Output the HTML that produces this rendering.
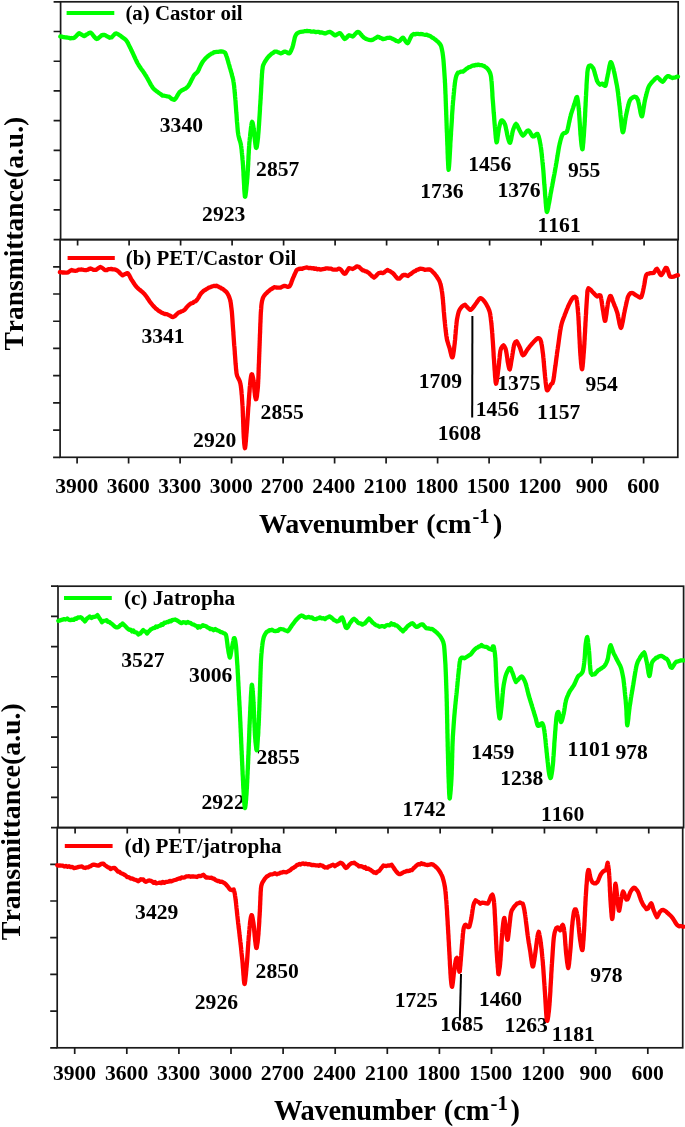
<!DOCTYPE html>
<html><head><meta charset="utf-8"><title>FTIR spectra</title>
<style>
html,body{margin:0;padding:0;background:#fff;}
svg{display:block}
text{font-family:"Liberation Serif",serif;font-weight:bold;fill:#000;font-kerning:none}
.lb{font-size:21.6px}
.lg{font-size:20.9px}
.tk{font-size:21.5px}
.ti{font-size:27px}
.su{font-size:20px}
</style></head><body>
<svg width="685" height="1127" viewBox="0 0 685 1127">
<rect width="685" height="1127" fill="#fff"/>
<g stroke="#1a1a1a" stroke-width="1.7" fill="none">
<rect x="60.6" y="1.8" width="617.60" height="237.80"/>
<path d="M53.60,1.80H60.6M53.60,31.52H60.6M53.60,61.25H60.6M53.60,90.97H60.6M53.60,120.70H60.6M53.60,150.43H60.6M53.60,180.15H60.6M53.60,209.88H60.6M53.60,239.60H60.6M77.60,239.6v6.0M129.10,239.6v6.0M180.60,239.6v6.0M232.10,239.6v6.0M283.60,239.6v6.0M335.10,239.6v6.0M386.60,239.6v6.0M438.10,239.6v6.0M489.60,239.6v6.0M541.10,239.6v6.0M592.60,239.6v6.0M644.10,239.6v6.0"/>
</g>
<g stroke="#1a1a1a" stroke-width="1.7" fill="none">
<rect x="60.1" y="239.6" width="617.70" height="217.70"/>
<path d="M53.10,266.81H60.1M53.10,294.02H60.1M53.10,321.24H60.1M53.10,348.45H60.1M53.10,375.66H60.1M53.10,402.88H60.1M53.10,430.09H60.1M53.10,457.30H60.1M77.10,457.3v6.3M128.60,457.3v6.3M180.10,457.3v6.3M231.60,457.3v6.3M283.10,457.3v6.3M334.60,457.3v6.3M386.10,457.3v6.3M437.60,457.3v6.3M489.10,457.3v6.3M540.60,457.3v6.3M592.10,457.3v6.3M643.60,457.3v6.3"/>
</g>
<text font-size="21.5" x="55.3" y="492.7">3900</text>
<text font-size="21.5" x="106.8" y="492.7">3600</text>
<text font-size="21.5" x="158.3" y="492.7">3300</text>
<text font-size="21.5" x="209.8" y="492.7">3000</text>
<text font-size="21.5" x="260.8" y="492.7">2700</text>
<text font-size="21.5" x="312.3" y="492.7">2400</text>
<text font-size="21.5" x="363.8" y="492.7">2100</text>
<text font-size="21.5" x="415.3" y="492.7">1800</text>
<text font-size="21.5" x="466.8" y="492.7">1500</text>
<text font-size="21.5" x="518.3" y="492.7">1200</text>
<text font-size="21.5" x="575.8" y="492.7">900</text>
<text font-size="21.5" x="627.3" y="492.7">600</text>
<g stroke="#1a1a1a" stroke-width="1.7" fill="none">
<rect x="58.0" y="586.2" width="625.60" height="241.40"/>
<path d="M51.00,586.20H58.0M51.00,616.38H58.0M51.00,646.55H58.0M51.00,676.73H58.0M51.00,706.90H58.0M51.00,737.08H58.0M51.00,767.25H58.0M51.00,797.42H58.0M51.00,827.60H58.0M75.10,827.6v6.0M127.25,827.6v6.0M179.40,827.6v6.0M231.55,827.6v6.0M283.70,827.6v6.0M335.85,827.6v6.0M388.00,827.6v6.0M440.15,827.6v6.0M492.30,827.6v6.0M544.45,827.6v6.0M596.60,827.6v6.0M648.75,827.6v6.0"/>
</g>
<g stroke="#1a1a1a" stroke-width="1.7" fill="none">
<rect x="57.2" y="827.6" width="625.50" height="220.20"/>
<path d="M50.20,864.30H57.2M50.20,901.00H57.2M50.20,937.70H57.2M50.20,974.40H57.2M50.20,1011.10H57.2M50.20,1047.80H57.2M74.70,1047.8v6.3M126.80,1047.8v6.3M178.90,1047.8v6.3M231.00,1047.8v6.3M283.10,1047.8v6.3M335.20,1047.8v6.3M387.30,1047.8v6.3M439.40,1047.8v6.3M491.50,1047.8v6.3M543.60,1047.8v6.3M595.70,1047.8v6.3M647.80,1047.8v6.3"/>
</g>
<text font-size="21.6" x="52.9" y="1080.0">3900</text>
<text font-size="21.6" x="105.0" y="1080.0">3600</text>
<text font-size="21.6" x="157.1" y="1080.0">3300</text>
<text font-size="21.6" x="209.2" y="1080.0">3000</text>
<text font-size="21.6" x="260.8" y="1080.0">2700</text>
<text font-size="21.6" x="312.9" y="1080.0">2400</text>
<text font-size="21.6" x="365.0" y="1080.0">2100</text>
<text font-size="21.6" x="417.1" y="1080.0">1800</text>
<text font-size="21.6" x="469.2" y="1080.0">1500</text>
<text font-size="21.6" x="521.3" y="1080.0">1200</text>
<text font-size="21.6" x="579.4" y="1080.0">900</text>
<text font-size="21.6" x="631.5" y="1080.0">600</text>
<text font-size="21.6" x="159.8" y="131.8">3340</text>
<text font-size="21.6" x="256.1" y="176.3">2857</text>
<text font-size="21.6" x="202.1" y="220.8">2923</text>
<text font-size="21.6" x="468.2" y="171.3">1456</text>
<text font-size="21.6" x="420.3" y="197.7">1736</text>
<text font-size="21.6" x="497.4" y="196.9">1376</text>
<text font-size="21.6" x="537.5" y="232.2">1161</text>
<text font-size="21.6" x="568.0" y="176.8">955</text>
<text font-size="21.6" x="141.4" y="342.8">3341</text>
<text font-size="21.6" x="260.6" y="419.4">2855</text>
<text font-size="21.6" x="193.1" y="447.0">2920</text>
<text font-size="21.6" x="418.8" y="387.7">1709</text>
<text font-size="21.6" x="497.3" y="390.2">1375</text>
<text font-size="21.6" x="475.8" y="415.6">1456</text>
<text font-size="21.6" x="437.8" y="440.0">1608</text>
<text font-size="21.6" x="537.1" y="419.0">1157</text>
<text font-size="21.6" x="585.5" y="391.3">954</text>
<text font-size="21.6" x="121.3" y="667.2">3527</text>
<text font-size="21.6" x="189.1" y="682.3">3006</text>
<text font-size="21.6" x="256.5" y="764.1">2855</text>
<text font-size="21.6" x="201.5" y="808.6">2922</text>
<text font-size="21.6" x="402.6" y="816.1">1742</text>
<text font-size="21.6" x="471.2" y="758.8">1459</text>
<text font-size="21.6" x="500.2" y="785.2">1238</text>
<text font-size="21.6" x="541.0" y="821.2">1160</text>
<text font-size="21.6" x="567.5" y="756.3">1101</text>
<text font-size="21.6" x="615.5" y="758.8">978</text>
<text font-size="21.6" x="135.1" y="919.3">3429</text>
<text font-size="21.6" x="255.6" y="977.6">2850</text>
<text font-size="21.6" x="194.8" y="1009.2">2926</text>
<text font-size="21.6" x="394.7" y="1007.2">1725</text>
<text font-size="21.6" x="440.3" y="1030.5">1685</text>
<text font-size="21.6" x="478.9" y="1006.4">1460</text>
<text font-size="21.6" x="504.6" y="1031.8">1263</text>
<text font-size="21.6" x="551.7" y="1041.1">1181</text>
<text font-size="21.6" x="590.2" y="981.6">978</text>
<line x1="66.6" y1="13.1" x2="114.3" y2="13.1" stroke="#00ff00" stroke-width="4"/><text font-size="20.9" x="125.4" y="20.1">(a) Castor oil</text>
<line x1="67.6" y1="258.0" x2="114.8" y2="258.0" stroke="#ff0000" stroke-width="4"/><text font-size="20.9" x="125.8" y="264.6">(b) PET/Castor Oil</text>
<line x1="64" y1="598.1" x2="111.8" y2="598.1" stroke="#00ff00" stroke-width="4"/><text font-size="21.2" x="123.9" y="605.2">(c) Jatropha</text>
<line x1="64.8" y1="845.9" x2="112.6" y2="845.9" stroke="#ff0000" stroke-width="4"/><text font-size="21.2" x="124.4" y="853.2">(d) PET/jatropha</text>
<line x1="472.4" y1="316" x2="472.2" y2="417.4" stroke="#000" stroke-width="2"/>
<line x1="461" y1="974" x2="459.8" y2="1020.5" stroke="#000" stroke-width="2"/>
<path d="M60.3,36.4L61.1,36.6L62.3,36.7L63.8,37.2L65.4,37.4L67.2,37.5L68.9,37.8L70.5,38.4L71.9,38.0L72.9,38.2L74.1,37.9L75.3,36.8L76.4,35.8L77.4,34.7L78.3,33.9L79.1,33.1L80.3,33.8L81.6,34.6L83.0,35.5L84.2,36.1L85.3,35.5L86.6,34.5L88.0,33.8L89.4,32.8L90.5,32.6L91.4,33.2L92.5,34.4L93.6,35.9L94.7,37.3L95.8,38.4L96.7,39.0L97.8,38.7L99.1,37.5L100.5,36.4L101.8,35.1L103.0,35.0L104.1,34.9L105.4,35.3L106.8,36.2L108.3,36.9L109.6,37.8L110.6,37.5L111.7,37.3L112.8,36.1L113.9,34.9L115.0,33.8L116.0,33.4L117.0,33.7L118.2,34.3L119.6,35.2L120.9,36.1L122.1,37.1L123.0,37.7L124.1,38.6L125.1,39.3L126.1,40.3L127.0,41.5L127.5,42.3L128.1,43.4L128.7,44.7L129.4,46.1L130.1,47.5L130.8,48.9L131.4,50.3L132.0,51.5L132.5,52.5L133.0,53.6L133.6,54.9L134.2,56.3L134.9,57.7L135.5,59.1L136.2,60.5L136.8,61.8L137.4,63.0L138.0,64.0L138.6,65.0L139.3,66.1L140.1,67.3L140.9,68.5L141.8,69.7L142.7,70.9L143.5,72.1L144.3,73.3L145.0,74.4L145.7,75.4L146.3,76.4L146.9,77.5L147.6,78.7L148.3,80.0L149.0,81.3L149.7,82.6L150.4,83.9L151.1,85.1L151.8,86.2L152.4,87.2L153.0,88.0L154.0,89.1L155.2,90.1L156.5,91.2L157.8,92.1L159.0,93.0L160.1,93.7L160.8,94.2L161.8,95.1L162.6,95.7L163.8,95.7L165.5,96.0L167.3,96.4L168.8,96.6L170.1,97.5L171.6,98.8L173.1,99.5L174.4,99.8L175.1,99.1L175.9,98.1L176.7,96.8L177.5,95.4L178.4,93.9L179.2,92.7L180.0,91.7L180.9,91.1L182.0,90.3L183.2,89.8L184.4,88.9L185.7,88.4L186.8,87.6L187.7,86.7L188.4,85.8L189.1,84.6L189.9,83.3L190.7,81.8L191.4,80.2L192.2,78.7L192.9,77.4L193.5,76.2L194.0,75.4L195.0,74.2L195.9,73.5L196.8,72.7L197.7,71.6L198.2,70.7L198.8,69.6L199.4,68.2L200.1,66.7L200.8,65.2L201.5,63.8L202.2,62.6L202.8,61.6L203.7,60.5L204.7,59.3L205.8,58.1L207.0,56.9L208.1,56.1L209.0,55.3L210.1,54.6L211.4,53.6L212.7,53.2L214.0,52.2L215.3,52.1L216.5,51.9L218.1,51.9L219.8,51.5L221.5,51.5L223.0,51.6L224.0,52.1L225.1,52.8L225.8,54.2L226.6,56.5L226.9,57.3L227.2,58.2L227.5,59.4L227.9,60.7L228.3,62.1L228.7,63.6L229.2,65.1L229.6,66.6L230.0,68.1L230.5,69.6L230.8,70.9L231.2,72.2L231.5,73.2L231.7,74.1L232.1,75.7L232.5,77.2L232.9,78.5L233.2,79.9L233.4,81.3L233.7,82.9L233.8,83.8L233.9,84.7L234.1,85.8L234.2,87.0L234.3,88.2L234.5,89.6L234.6,91.0L234.7,92.4L234.9,93.9L235.0,95.4L235.1,96.9L235.3,98.5L235.4,100.0L235.5,100.9L235.6,101.8L235.6,102.9L235.7,104.1L235.8,105.4L235.9,106.7L236.0,108.1L236.1,109.6L236.2,111.1L236.3,112.6L236.5,114.2L236.6,115.8L236.7,117.4L236.8,118.9L236.9,120.5L237.0,122.0L237.2,123.5L237.3,124.9L237.4,126.3L237.5,127.6L237.6,128.8L237.7,130.0L237.8,131.0L237.9,131.9L238.0,132.7L238.3,134.6L238.6,136.2L239.0,137.7L239.3,139.0L239.7,140.2L240.1,141.4L240.4,142.6L240.7,143.8L241.0,145.2L241.1,146.1L241.3,147.2L241.4,148.3L241.6,149.5L241.7,150.8L241.8,152.2L242.0,153.6L242.1,155.0L242.3,156.5L242.4,158.0L242.5,159.5L242.7,161.0L242.8,162.5L242.9,163.9L243.0,165.3L243.1,166.2L243.1,167.3L243.2,168.6L243.3,169.9L243.4,171.4L243.5,172.9L243.5,174.5L243.6,176.2L243.7,177.9L243.8,179.6L243.9,181.4L244.0,183.1L244.1,184.8L244.2,186.4L244.2,188.0L244.3,189.5L244.4,190.9L244.5,192.2L244.6,193.4L244.7,194.4L244.8,195.2L244.8,195.9L244.9,196.4L245.0,196.7L245.1,196.8L245.3,196.5L245.4,195.8L245.6,194.9L245.7,193.7L245.9,192.4L246.1,190.8L246.3,189.1L246.4,187.4L246.6,185.5L246.8,183.7L247.0,181.8L247.1,180.0L247.3,178.3L247.4,176.8L247.5,175.4L247.6,174.5L247.6,173.4L247.7,172.3L247.8,171.1L247.9,169.8L247.9,168.4L248.0,167.0L248.1,165.6L248.2,164.1L248.2,162.6L248.3,161.1L248.4,159.6L248.5,158.1L248.5,156.6L248.6,155.1L248.7,153.7L248.8,152.3L248.8,150.9L248.9,149.6L249.0,148.4L249.1,147.2L249.1,146.2L249.2,145.2L249.3,143.9L249.4,142.5L249.6,141.0L249.7,139.4L249.9,137.8L250.1,136.2L250.2,134.6L250.4,132.9L250.6,131.4L250.8,129.8L250.9,128.4L251.1,127.1L251.3,125.8L251.4,124.8L251.6,123.9L251.7,123.1L251.8,122.6L252.2,121.8L252.7,123.0L253.1,125.1L253.5,127.6L253.6,128.4L253.8,129.5L253.9,130.8L254.1,132.4L254.3,134.0L254.4,135.7L254.6,137.5L254.8,139.3L255.0,141.0L255.2,142.6L255.4,144.1L255.6,145.4L255.7,146.5L255.9,147.3L256.0,147.7L256.3,147.9L256.6,147.4L256.9,146.3L257.1,144.7L257.4,142.7L257.7,140.3L258.0,137.7L258.1,137.0L258.1,136.1L258.2,135.2L258.3,134.1L258.4,133.0L258.5,131.8L258.6,130.5L258.7,129.1L258.8,127.7L258.9,126.3L259.0,124.8L259.1,123.2L259.2,121.7L259.3,120.1L259.4,118.5L259.5,116.9L259.6,115.3L259.7,113.8L259.8,112.2L259.9,110.7L260.0,109.2L260.0,107.8L260.1,106.4L260.2,105.1L260.3,103.8L260.4,102.6L260.4,101.5L260.5,100.5L260.6,99.3L260.7,98.0L260.7,96.7L260.8,95.3L260.9,93.8L261.0,92.3L261.1,90.8L261.1,89.3L261.2,87.8L261.3,86.2L261.4,84.7L261.5,83.2L261.5,81.7L261.6,80.3L261.7,78.9L261.8,77.6L261.9,76.3L261.9,75.1L262.0,73.9L262.1,72.9L262.2,72.0L262.2,71.1L262.3,70.4L262.6,68.2L262.8,66.6L263.1,65.4L263.5,64.5L263.9,63.7L264.3,62.8L264.9,61.7L265.7,60.5L266.6,59.1L267.5,57.9L268.5,56.7L269.3,55.8L270.4,54.8L271.7,53.7L273.2,52.8L274.5,51.7L275.6,51.6L276.8,51.6L278.2,52.3L279.5,52.9L280.6,53.4L282.0,53.0L283.6,51.9L285.0,51.6L286.4,52.0L288.1,53.1L289.4,53.4L290.1,52.6L290.8,51.3L291.5,49.7L292.2,48.0L292.7,46.5L293.0,45.5L293.3,44.2L293.6,42.8L294.0,41.3L294.3,39.8L294.6,38.4L294.9,37.3L295.2,36.4L296.0,34.8L296.9,33.6L298.2,32.7L299.3,32.3L300.8,31.8L302.6,31.7L304.4,31.2L305.9,31.2L307.0,30.9L308.4,31.1L310.0,31.2L311.0,31.7L312.4,31.6L314.0,31.5L315.8,32.1L317.4,31.9L318.9,31.9L320.0,32.5L321.9,32.3L323.6,33.2L325.0,33.5L326.2,33.1L327.5,32.6L328.8,32.1L330.0,31.8L331.2,32.5L332.5,33.5L333.8,34.6L335.0,35.4L336.2,34.9L337.5,34.1L338.9,33.4L340.0,33.1L340.9,34.0L341.9,35.3L342.9,36.9L343.9,38.2L344.7,39.1L345.7,38.4L346.9,37.3L348.0,35.9L349.0,35.2L350.8,35.8L352.7,36.5L353.6,35.8L354.7,34.6L356.0,33.3L357.2,32.1L358.2,31.9L359.0,32.2L360.0,33.2L361.0,34.5L362.0,35.7L363.1,36.9L364.0,37.7L365.1,38.3L366.4,39.0L367.8,39.5L369.2,39.9L370.5,40.1L371.6,40.0L372.8,39.9L374.1,38.9L375.5,38.2L376.8,37.3L377.8,36.7L379.0,37.1L380.3,37.9L381.6,38.3L382.9,39.2L384.1,38.8L385.5,38.6L387.1,37.8L388.6,37.8L390.0,37.7L391.0,38.1L392.3,38.7L393.6,39.3L395.0,40.0L396.3,41.0L397.5,41.2L398.4,41.6L399.7,40.9L400.9,39.5L402.0,38.3L403.0,37.6L403.8,38.4L404.7,39.8L405.7,41.5L406.7,42.8L407.5,43.3L408.1,42.7L408.7,41.5L409.4,40.1L410.2,38.4L411.0,36.8L411.7,35.5L412.5,34.7L413.6,34.0L414.9,34.3L416.4,33.9L418.0,33.8L419.4,34.2L420.6,34.0L422.0,34.1L423.6,34.5L425.2,34.8L426.7,34.7L428.0,35.4L429.2,35.7L430.6,36.3L431.9,37.4L433.3,38.0L434.4,39.0L435.4,39.6L436.5,40.6L437.7,41.6L438.9,42.8L439.9,44.0L440.7,45.2L441.1,46.1L441.4,47.2L441.7,48.5L442.0,49.8L442.3,51.3L442.6,52.9L442.8,54.5L443.0,56.1L443.2,57.8L443.3,58.7L443.4,59.6L443.5,60.7L443.6,61.9L443.7,63.1L443.8,64.5L443.9,65.8L444.0,67.3L444.1,68.7L444.2,70.2L444.3,71.7L444.4,73.2L444.5,74.7L444.6,76.2L444.7,77.7L444.8,79.1L444.9,80.4L444.9,81.7L445.0,82.9L445.1,83.9L445.1,85.0L445.2,86.1L445.2,87.4L445.3,88.6L445.3,90.0L445.4,91.3L445.4,92.8L445.5,94.2L445.6,95.6L445.6,97.1L445.7,98.6L445.7,100.1L445.8,101.5L445.8,103.0L445.9,104.4L445.9,105.8L446.0,107.1L446.0,108.4L446.1,109.7L446.1,110.9L446.2,112.0L446.2,113.0L446.2,114.2L446.3,115.4L446.3,116.7L446.4,118.0L446.4,119.4L446.5,120.8L446.5,122.2L446.6,123.6L446.6,125.1L446.7,126.5L446.7,128.0L446.8,129.4L446.8,130.9L446.9,132.3L447.0,133.7L447.0,135.0L447.1,136.3L447.1,137.6L447.2,138.8L447.2,140.0L447.2,141.1L447.3,142.4L447.3,143.8L447.4,145.3L447.5,146.9L447.5,148.6L447.6,150.4L447.6,152.2L447.7,154.0L447.8,155.8L447.8,157.6L447.9,159.3L448.0,161.0L448.1,162.5L448.1,164.0L448.2,165.3L448.3,166.5L448.3,167.5L448.4,168.4L448.5,169.0L448.5,169.4L448.6,169.7L448.7,169.4L448.7,169.0L448.8,168.4L448.9,167.6L449.0,166.7L449.1,165.5L449.2,164.2L449.3,162.8L449.4,161.3L449.5,159.7L449.6,158.0L449.7,156.2L449.8,154.5L449.9,152.7L450.0,150.9L450.1,149.1L450.2,147.4L450.3,145.7L450.3,144.1L450.4,142.6L450.5,141.2L450.6,140.0L450.7,139.0L450.7,137.8L450.8,136.7L450.9,135.4L451.0,134.1L451.0,132.7L451.1,131.3L451.2,129.9L451.3,128.4L451.4,126.9L451.5,125.3L451.6,123.8L451.7,122.3L451.8,120.7L451.9,119.2L452.0,117.7L452.0,116.2L452.1,114.7L452.2,113.3L452.3,111.9L452.4,110.6L452.5,109.3L452.6,108.1L452.6,107.0L452.7,106.0L452.8,105.0L452.9,103.7L453.0,102.4L453.1,100.9L453.3,99.5L453.4,98.0L453.5,96.5L453.7,95.0L453.8,93.5L454.0,92.0L454.1,90.5L454.2,89.1L454.4,87.7L454.5,86.4L454.7,85.2L454.8,84.0L454.9,82.9L455.1,81.9L455.2,81.0L455.3,80.3L455.7,78.3L456.1,76.7L456.5,75.4L457.0,74.3L457.5,73.5L458.0,72.6L459.5,72.3L461.3,71.6L463.0,71.7L464.1,70.7L465.4,69.7L466.7,68.6L468.0,67.8L469.0,67.1L470.3,66.8L471.6,66.1L473.1,65.5L474.4,65.5L475.5,64.9L476.8,65.1L478.3,64.6L479.9,65.2L481.3,65.1L482.5,65.6L483.8,65.8L485.3,66.9L486.6,67.8L487.7,68.9L488.3,69.7L488.9,70.6L489.5,71.7L490.1,73.0L490.6,74.6L491.0,76.5L491.1,77.3L491.2,78.2L491.3,79.3L491.4,80.5L491.6,81.7L491.7,83.1L491.8,84.6L491.9,86.0L492.0,87.6L492.1,89.1L492.2,90.7L492.3,92.2L492.4,93.8L492.4,95.2L492.5,96.7L492.6,98.0L492.7,99.3L492.8,100.4L492.9,101.5L493.0,102.7L493.1,103.9L493.2,105.3L493.3,106.6L493.4,108.1L493.5,109.6L493.6,111.0L493.7,112.6L493.9,114.1L494.0,115.5L494.1,117.0L494.2,118.4L494.3,119.8L494.4,121.1L494.5,122.4L494.6,123.5L494.7,124.6L494.8,125.5L494.9,127.0L495.1,128.7L495.2,130.4L495.4,132.3L495.5,134.1L495.7,135.9L495.8,137.5L496.0,139.0L496.2,140.3L496.3,141.3L496.5,142.0L496.6,142.4L496.8,142.1L497.0,141.4L497.2,140.3L497.4,138.9L497.6,137.2L497.9,135.5L498.1,133.7L498.4,131.9L498.6,130.3L498.8,129.0L499.0,128.0L499.4,126.4L499.8,124.8L500.2,123.2L500.6,121.9L501.1,120.8L501.5,120.3L502.3,120.4L503.2,121.3L504.2,122.8L505.0,124.5L505.3,125.4L505.6,126.6L505.9,128.0L506.2,129.6L506.6,131.2L506.9,132.9L507.2,134.5L507.5,135.9L507.8,137.1L508.0,138.0L508.7,140.5L509.5,142.4L510.2,142.7L510.4,142.0L510.7,140.9L511.1,139.5L511.4,137.9L511.7,136.1L512.1,134.4L512.4,132.7L512.7,131.3L513.0,130.3L513.5,128.7L514.2,127.0L514.8,125.5L515.4,124.5L516.0,123.9L516.7,124.6L517.6,126.1L518.4,128.0L519.2,129.5L519.8,130.7L520.6,132.2L521.4,133.7L522.2,134.9L523.0,135.6L523.9,134.9L525.0,133.6L526.1,132.1L527.3,130.8L528.2,130.5L528.9,130.8L529.8,131.9L530.6,133.3L531.5,134.8L532.3,136.0L533.0,136.5L534.1,136.3L535.4,135.1L536.6,133.9L537.6,134.0L537.9,134.6L538.3,135.4L538.7,136.5L539.0,137.7L539.4,139.2L539.7,140.7L540.0,142.3L540.3,143.9L540.6,145.4L540.7,146.3L540.9,147.3L541.0,148.4L541.2,149.6L541.3,150.9L541.5,152.3L541.7,153.7L541.8,155.1L542.0,156.6L542.1,158.2L542.3,159.7L542.4,161.2L542.6,162.7L542.7,164.1L542.9,165.5L543.0,166.8L543.1,168.0L543.2,169.0L543.3,170.1L543.4,171.3L543.5,172.6L543.6,173.9L543.7,175.4L543.8,176.8L543.9,178.3L544.0,179.8L544.1,181.3L544.2,182.8L544.3,184.3L544.5,185.8L544.6,187.3L544.7,188.7L544.8,190.0L544.9,191.3L545.0,192.5L545.0,193.6L545.1,194.6L545.2,195.5L545.3,197.1L545.5,198.8L545.6,200.6L545.7,202.4L545.9,204.2L546.0,206.0L546.2,207.6L546.3,209.0L546.5,210.2L546.6,211.1L546.8,211.7L547.0,211.9L547.2,211.5L547.4,211.0L547.6,210.1L547.9,209.0L548.2,207.6L548.4,206.1L548.7,204.5L549.1,202.8L549.4,201.1L549.7,199.3L550.0,197.6L550.3,195.9L550.5,194.4L550.8,193.0L551.0,192.0L551.2,191.0L551.4,189.8L551.6,188.6L551.9,187.3L552.2,185.9L552.4,184.5L552.7,183.0L553.0,181.5L553.3,180.0L553.5,178.5L553.8,177.0L554.1,175.6L554.4,174.1L554.6,172.7L554.9,171.4L555.1,170.1L555.3,168.9L555.5,167.8L555.7,166.8L555.9,165.6L556.1,164.3L556.4,162.9L556.6,161.4L556.9,160.0L557.1,158.5L557.3,157.0L557.6,155.5L557.8,154.0L558.1,152.5L558.3,151.2L558.5,149.9L558.7,148.6L558.9,147.5L559.1,146.5L559.3,145.6L559.6,144.1L560.0,142.6L560.3,141.2L560.7,139.7L561.1,138.4L561.5,137.1L561.9,136.0L562.3,135.0L562.6,134.3L563.9,133.2L565.5,132.9L566.9,131.6L567.2,130.9L567.4,129.9L567.8,128.8L568.1,127.4L568.4,126.0L568.7,124.5L569.0,122.9L569.4,121.4L569.7,119.9L570.0,118.4L570.3,117.1L570.6,116.0L570.8,115.0L571.2,113.6L571.7,112.1L572.2,110.6L572.7,109.1L573.2,107.6L573.6,106.3L574.0,105.1L574.4,104.1L574.9,102.4L575.5,100.3L576.1,98.4L576.6,97.2L577.0,96.9L577.2,97.4L577.4,98.2L577.6,99.3L577.8,100.6L578.0,102.1L578.2,103.7L578.4,105.4L578.6,107.1L578.7,108.8L578.9,110.4L579.0,111.3L579.1,112.3L579.1,113.5L579.2,114.7L579.3,116.1L579.4,117.5L579.5,119.0L579.6,120.6L579.7,122.1L579.8,123.7L579.9,125.3L580.0,126.8L580.1,128.3L580.2,129.8L580.3,131.1L580.4,132.4L580.4,133.6L580.5,134.6L580.6,135.5L580.8,137.2L580.9,139.0L581.1,141.0L581.3,142.9L581.5,144.8L581.7,146.4L582.0,147.8L582.1,148.8L582.3,149.3L582.5,149.2L582.6,148.9L582.7,148.3L582.8,147.5L582.9,146.5L583.0,145.3L583.1,144.0L583.3,142.6L583.4,141.1L583.5,139.5L583.6,137.9L583.8,136.2L583.9,134.5L584.0,132.8L584.1,131.2L584.2,129.6L584.3,128.1L584.4,126.8L584.5,125.5L584.6,124.5L584.6,123.4L584.7,122.2L584.8,120.9L584.8,119.6L584.9,118.2L585.0,116.8L585.1,115.3L585.1,113.8L585.2,112.3L585.3,110.8L585.3,109.3L585.4,107.8L585.5,106.3L585.6,104.8L585.6,103.4L585.7,102.0L585.8,100.6L585.8,99.4L585.9,98.2L585.9,97.0L586.0,96.0L586.1,94.7L586.1,93.4L586.2,92.0L586.3,90.5L586.4,88.9L586.5,87.4L586.5,85.8L586.6,84.2L586.7,82.6L586.8,81.0L586.9,79.5L587.0,78.1L587.1,76.7L587.2,75.4L587.3,74.2L587.3,73.2L587.4,72.3L587.5,71.5L587.9,68.9L588.4,67.1L588.9,66.0L589.5,65.7L590.6,65.4L592.0,66.7L593.3,68.4L593.6,69.2L594.0,70.3L594.4,71.6L594.8,73.1L595.2,74.7L595.7,76.2L596.1,77.7L596.5,79.1L596.8,80.2L597.1,81.0L598.1,82.8L599.1,83.9L600.0,84.7L601.3,83.8L602.5,83.6L603.9,85.3L605.3,85.9L605.6,85.4L605.9,84.3L606.2,83.0L606.5,81.5L606.8,79.9L607.1,78.2L607.5,76.6L607.7,75.2L608.0,74.0L608.3,72.8L608.5,71.3L608.8,69.7L609.1,68.0L609.4,66.3L609.8,64.8L610.1,63.6L610.3,62.7L610.6,62.1L611.1,62.3L611.7,63.4L612.3,65.0L612.9,67.0L613.5,69.1L613.7,69.9L613.9,70.9L614.2,72.1L614.5,73.4L614.8,74.8L615.1,76.3L615.4,77.8L615.7,79.4L616.0,81.0L616.3,82.5L616.6,84.0L616.9,85.4L617.1,86.7L617.3,87.9L617.5,89.0L617.6,90.2L617.8,91.4L618.0,92.7L618.2,94.1L618.3,95.5L618.5,96.9L618.7,98.4L618.8,99.9L619.0,101.3L619.2,102.7L619.3,104.1L619.5,105.5L619.7,106.8L619.8,108.0L619.9,109.1L620.1,110.4L620.2,111.8L620.4,113.3L620.5,115.0L620.7,116.7L620.9,118.5L621.1,120.2L621.3,122.0L621.5,123.7L621.6,125.3L621.8,126.9L622.0,128.3L622.2,129.5L622.3,130.6L622.5,131.4L622.7,132.0L622.8,132.3L623.0,132.3L623.2,131.8L623.5,131.0L623.7,129.8L624.0,128.4L624.2,126.8L624.5,125.0L624.8,123.2L625.0,121.4L625.3,119.7L625.5,118.1L625.8,116.7L626.0,115.6L626.3,114.3L626.6,112.9L626.9,111.4L627.3,109.8L627.6,108.2L628.0,106.6L628.4,105.1L628.7,103.7L629.1,102.4L629.5,101.3L629.8,100.5L630.9,98.8L632.4,97.7L633.8,96.9L634.9,96.7L636.0,97.0L637.1,98.3L638.1,100.5L638.3,101.4L638.6,102.6L638.9,104.1L639.3,105.8L639.6,107.6L640.0,109.5L640.3,111.3L640.6,112.9L641.0,114.4L641.3,115.5L641.6,116.2L641.8,116.3L642.0,116.3L642.3,115.6L642.5,114.6L642.8,113.2L643.1,111.7L643.3,110.0L643.6,108.2L643.9,106.4L644.2,104.7L644.4,103.1L644.7,101.6L644.9,100.5L645.2,99.3L645.5,98.1L645.8,96.7L646.2,95.3L646.5,93.8L646.9,92.4L647.3,91.0L647.6,89.7L648.0,88.6L648.4,87.5L648.7,86.7L649.4,85.4L650.3,84.2L651.2,83.0L652.1,82.0L653.0,81.1L653.7,80.4L654.9,79.0L656.3,77.9L657.5,77.2L658.3,78.0L659.4,79.0L660.5,80.3L661.6,81.2L662.5,81.8L663.4,81.1L664.4,79.8L665.5,78.2L666.6,76.9L667.5,76.2L668.7,76.1L670.0,76.9L671.4,77.4L672.6,78.0L673.9,77.7L675.6,77.3L677.0,76.7L678.0,76.6" fill="none" stroke="#00ff00" stroke-width="4.3" stroke-linejoin="round" stroke-linecap="round"/>
<path d="M59.8,272.2L60.7,272.2L62.1,272.5L63.8,272.5L65.4,272.6L66.6,272.7L67.9,272.4L69.2,271.5L70.5,270.7L71.6,270.0L73.5,270.7L75.4,270.8L76.5,270.7L77.8,270.1L79.1,269.6L80.4,269.7L81.8,269.5L83.6,269.9L85.4,270.2L86.7,270.0L88.0,269.7L89.3,268.9L90.5,268.5L91.9,269.0L93.5,269.9L95.0,269.9L96.2,269.8L97.7,268.6L99.2,267.7L100.5,267.0L101.7,267.7L103.1,268.5L104.4,269.8L105.5,270.2L106.9,270.0L108.4,269.2L110.0,269.2L111.1,268.9L112.6,269.4L114.1,269.4L115.6,269.7L116.8,270.2L117.9,271.0L119.2,272.2L120.4,273.5L121.6,274.6L122.6,275.4L123.8,274.7L125.2,274.1L126.5,273.4L127.6,273.1L128.3,273.8L129.0,274.9L129.8,276.3L130.5,277.8L131.2,279.2L131.9,280.3L132.6,281.3L133.4,282.5L134.2,283.8L135.1,285.1L136.0,286.3L136.9,287.3L137.8,288.2L138.8,289.1L140.0,290.0L141.3,291.1L142.5,292.1L143.6,293.2L144.5,294.1L145.2,295.0L146.0,296.1L146.9,297.3L147.7,298.5L148.6,299.8L149.4,301.0L150.1,302.0L150.8,302.9L151.7,304.0L152.6,305.1L153.6,306.2L154.6,307.3L155.6,308.3L156.5,309.1L157.5,309.8L158.7,310.8L160.0,311.5L161.3,312.4L162.5,312.9L163.5,313.5L164.8,314.0L166.3,314.1L167.7,314.6L168.8,315.1L170.2,315.7L171.7,316.8L173.1,317.0L174.1,316.6L175.3,315.7L176.6,314.3L177.9,313.2L178.9,312.3L180.1,312.1L181.4,311.3L182.8,311.0L183.9,310.3L184.8,309.6L185.8,308.4L186.8,307.1L187.9,305.9L188.9,304.9L189.9,304.2L191.2,303.4L192.7,303.0L194.2,301.8L195.5,301.3L196.5,300.4L197.3,299.4L198.2,298.1L199.1,296.6L199.9,295.1L200.7,293.8L201.5,292.8L202.6,291.8L203.8,290.7L205.2,290.0L206.6,289.0L207.8,288.3L208.9,287.6L210.2,287.2L211.5,286.6L212.9,286.2L214.2,285.8L215.3,286.1L216.5,285.7L217.9,286.4L219.3,287.2L220.5,287.6L221.6,288.5L222.9,289.0L224.2,290.2L225.6,291.2L226.6,292.3L227.3,293.3L228.0,294.6L228.8,296.1L229.4,297.6L229.9,299.1L230.2,300.1L230.4,301.3L230.7,302.6L230.9,304.1L231.1,305.6L231.3,307.2L231.5,308.8L231.7,310.4L231.8,311.3L231.9,312.4L232.0,313.5L232.1,314.8L232.2,316.1L232.3,317.6L232.4,319.0L232.5,320.5L232.6,322.0L232.7,323.6L232.8,325.1L232.9,326.5L233.0,327.9L233.1,329.3L233.2,330.5L233.3,331.5L233.4,332.6L233.4,333.8L233.5,335.1L233.6,336.4L233.7,337.8L233.8,339.3L233.9,340.7L234.0,342.2L234.1,343.7L234.2,345.2L234.4,346.7L234.5,348.1L234.6,349.5L234.7,350.8L234.8,352.1L234.8,353.2L234.9,354.3L235.0,355.3L235.1,356.6L235.2,358.0L235.3,359.4L235.4,360.9L235.5,362.4L235.6,363.9L235.8,365.4L235.9,366.9L236.0,368.3L236.1,369.6L236.3,370.9L236.4,372.1L236.5,373.1L236.7,374.0L237.0,375.4L237.5,376.6L238.0,377.7L238.6,378.9L239.2,380.0L239.7,381.2L240.1,382.5L240.5,384.0L240.6,384.9L240.8,385.8L240.9,386.9L241.1,388.1L241.2,389.4L241.4,390.8L241.5,392.2L241.6,393.7L241.8,395.2L241.9,396.7L242.0,398.2L242.1,399.7L242.2,401.2L242.3,402.7L242.4,404.1L242.5,405.4L242.6,406.4L242.6,407.4L242.7,408.6L242.7,409.8L242.8,411.2L242.8,412.6L242.9,414.0L242.9,415.5L243.0,417.0L243.1,418.6L243.1,420.1L243.2,421.7L243.2,423.2L243.3,424.7L243.3,426.2L243.4,427.6L243.4,429.0L243.5,430.3L243.5,431.6L243.6,432.7L243.6,433.8L243.7,434.7L243.7,435.5L243.8,437.5L244.0,439.5L244.1,441.4L244.2,443.3L244.4,445.0L244.6,446.4L244.7,447.4L244.9,448.0L245.0,448.2L245.1,447.8L245.2,447.2L245.3,446.3L245.5,445.2L245.6,443.9L245.7,442.5L245.9,440.9L246.0,439.2L246.1,437.5L246.3,435.7L246.4,433.9L246.6,432.2L246.7,430.5L246.8,429.7L246.8,428.7L246.9,427.7L247.0,426.5L247.1,425.3L247.2,424.0L247.3,422.6L247.4,421.2L247.5,419.7L247.6,418.2L247.7,416.7L247.8,415.1L247.9,413.6L248.0,412.0L248.1,410.4L248.2,408.9L248.3,407.3L248.5,405.8L248.6,404.4L248.7,403.0L248.7,401.6L248.8,400.4L248.9,399.2L249.0,398.0L249.1,397.0L249.1,396.1L249.2,395.3L249.3,393.5L249.5,391.8L249.6,390.1L249.7,388.6L249.8,387.1L250.0,385.7L250.1,384.4L250.2,383.2L250.3,382.1L250.4,381.1L250.5,380.3L250.8,378.1L251.1,376.1L251.5,374.6L251.8,374.2L252.1,374.4L252.4,375.4L252.8,376.9L253.2,378.6L253.5,380.3L253.6,381.2L253.8,382.4L253.9,383.9L254.0,385.4L254.2,387.1L254.3,388.8L254.5,390.4L254.6,391.9L254.8,393.3L254.9,394.4L255.0,395.3L255.4,397.7L255.9,399.3L256.3,399.1L256.4,398.6L256.6,397.8L256.8,396.8L257.0,395.6L257.1,394.2L257.3,392.6L257.5,390.9L257.7,389.1L257.9,387.2L258.0,385.3L258.0,384.5L258.1,383.7L258.1,382.7L258.2,381.7L258.2,380.5L258.3,379.4L258.4,378.1L258.4,376.8L258.5,375.5L258.5,374.1L258.6,372.6L258.6,371.2L258.7,369.7L258.7,368.2L258.8,366.7L258.8,365.2L258.9,363.6L259.0,362.1L259.0,360.6L259.1,359.2L259.1,357.7L259.2,356.3L259.2,354.9L259.3,353.6L259.3,352.4L259.4,351.1L259.4,350.0L259.4,349.0L259.5,347.8L259.5,346.7L259.6,345.4L259.6,344.1L259.7,342.7L259.7,341.3L259.8,339.8L259.8,338.4L259.9,336.8L259.9,335.3L260.0,333.8L260.1,332.2L260.1,330.6L260.2,329.1L260.2,327.5L260.3,326.0L260.3,324.5L260.4,323.0L260.5,321.5L260.5,320.1L260.6,318.8L260.6,317.5L260.7,316.2L260.7,315.1L260.8,314.0L260.8,312.9L260.9,312.0L261.0,311.1L261.0,310.4L261.2,308.2L261.3,306.3L261.5,304.6L261.7,303.1L261.9,301.8L262.2,300.6L262.4,299.6L262.7,298.7L263.0,297.8L263.6,296.6L264.4,295.4L265.3,294.3L266.3,293.3L267.3,292.4L268.1,291.5L269.2,290.7L270.5,289.5L272.0,288.8L273.3,287.8L274.4,287.2L276.1,287.5L277.8,287.6L279.4,287.7L280.6,287.6L281.9,286.9L283.2,286.3L284.4,285.9L286.0,286.2L287.9,286.9L289.4,286.5L289.9,285.8L290.5,284.7L291.1,283.3L291.6,281.8L292.2,280.2L292.7,278.8L293.2,277.7L293.8,276.4L294.4,274.9L295.1,273.3L295.8,271.8L296.4,270.5L297.0,269.7L298.8,269.0L300.8,268.7L302.2,268.8L304.0,268.0L305.8,267.7L307.0,267.4L308.6,268.2L310.3,267.9L312.0,268.3L313.3,268.1L314.5,268.9L315.9,268.5L317.4,269.3L318.8,269.0L320.0,269.5L321.3,269.5L322.9,269.1L324.6,268.9L326.2,268.3L327.6,268.4L329.0,268.6L330.6,268.6L332.3,269.3L333.9,269.7L335.1,269.7L336.9,269.6L338.7,268.7L340.2,269.1L341.0,269.7L342.0,271.0L343.0,272.4L343.9,273.5L344.7,273.8L345.5,273.5L346.4,272.1L347.4,270.5L348.3,269.1L349.0,268.1L350.8,268.5L352.7,269.0L353.8,268.3L355.1,267.6L356.5,266.5L357.7,266.5L358.9,266.8L360.2,268.1L361.6,269.3L362.8,270.4L363.9,270.4L365.2,271.4L366.6,271.3L367.8,272.4L368.7,272.8L369.7,273.9L370.9,275.0L372.1,276.2L373.1,276.8L374.0,277.5L375.0,276.7L376.1,275.8L377.2,274.5L378.3,273.4L379.1,273.0L381.0,272.6L382.9,273.2L383.9,272.7L385.1,271.5L386.3,270.8L387.4,269.9L388.6,270.6L390.1,271.3L391.6,272.3L392.9,273.1L393.7,274.0L394.7,275.2L395.7,276.5L396.7,277.6L397.6,278.7L398.4,278.6L399.4,278.7L400.4,277.7L401.6,276.5L402.6,275.3L403.5,275.0L405.0,274.8L406.6,275.5L408.0,276.0L409.1,275.0L410.4,274.2L411.7,273.2L413.0,272.3L414.0,271.6L415.3,271.1L416.7,269.9L418.1,269.7L419.3,268.8L420.3,268.7L421.9,268.9L423.4,269.2L424.8,269.9L426.3,269.6L428.1,269.5L429.7,269.5L430.6,270.0L431.7,270.8L432.8,271.9L433.9,273.0L434.8,274.0L435.4,274.8L436.2,275.8L437.0,277.0L437.8,278.3L438.6,279.5L439.3,280.8L439.8,282.0L440.1,283.0L440.4,284.0L440.8,285.2L441.0,286.5L441.3,287.8L441.6,289.3L441.8,290.8L442.1,292.4L442.3,294.0L442.4,294.9L442.5,295.8L442.6,297.0L442.7,298.2L442.9,299.5L443.0,300.9L443.1,302.3L443.2,303.8L443.4,305.4L443.5,306.9L443.6,308.5L443.7,310.0L443.8,311.5L444.0,313.0L444.1,314.4L444.2,315.7L444.3,316.9L444.4,318.0L444.5,319.0L444.6,320.3L444.8,321.7L444.9,323.2L445.1,324.7L445.2,326.2L445.4,327.7L445.6,329.3L445.7,330.8L445.9,332.2L446.1,333.6L446.2,334.9L446.4,336.1L446.6,337.1L446.7,338.0L447.0,339.6L447.4,341.1L447.8,342.5L448.2,343.8L448.6,345.1L449.0,346.3L449.4,347.4L449.7,348.6L450.1,350.2L450.5,351.9L450.9,353.6L451.3,355.2L451.7,356.5L452.1,357.4L452.4,357.4L452.6,357.3L452.8,356.5L453.1,355.4L453.3,354.1L453.5,352.6L453.8,350.9L454.0,349.2L454.2,347.5L454.4,345.8L454.6,344.3L454.7,343.4L454.8,342.3L454.9,341.1L455.1,339.7L455.2,338.3L455.3,336.8L455.4,335.2L455.6,333.7L455.7,332.1L455.8,330.5L456.0,329.0L456.1,327.5L456.2,326.1L456.4,324.8L456.5,323.6L456.6,322.6L456.7,321.7L456.9,320.0L457.2,318.4L457.5,316.9L457.8,315.4L458.1,314.1L458.4,312.9L458.7,311.9L459.0,311.0L459.7,309.6L460.5,308.3L461.3,307.3L462.0,306.5L463.4,305.5L465.0,304.8L465.9,305.8L467.1,307.0L468.3,308.3L469.6,309.6L470.6,309.9L471.5,309.3L472.6,308.1L473.7,306.7L474.7,305.2L475.6,304.0L476.5,302.8L477.5,301.3L478.5,299.9L479.5,298.7L480.4,298.1L481.3,298.3L482.4,299.2L483.5,300.3L484.5,301.6L485.4,302.8L485.9,303.6L486.5,304.6L487.1,305.8L487.8,307.0L488.4,308.4L489.0,309.8L489.5,311.3L489.9,312.8L490.1,313.7L490.3,314.7L490.4,315.8L490.6,317.0L490.8,318.3L490.9,319.7L491.1,321.1L491.3,322.6L491.4,324.1L491.6,325.6L491.7,327.1L491.8,328.6L492.0,330.1L492.1,331.5L492.2,332.9L492.3,333.8L492.4,334.9L492.4,336.0L492.5,337.2L492.6,338.5L492.7,339.8L492.8,341.2L492.9,342.7L493.0,344.2L493.1,345.7L493.2,347.2L493.3,348.7L493.4,350.3L493.5,351.8L493.6,353.3L493.6,354.7L493.7,356.1L493.8,357.5L493.9,358.8L494.0,360.0L494.1,361.1L494.1,362.2L494.2,363.1L494.3,364.5L494.4,366.1L494.5,367.8L494.6,369.5L494.8,371.3L494.9,373.0L495.0,374.8L495.1,376.5L495.3,378.0L495.4,379.5L495.5,380.8L495.6,381.9L495.8,382.7L495.9,383.3L496.0,383.7L496.2,383.5L496.3,383.0L496.5,382.1L496.8,380.9L497.0,379.4L497.2,377.8L497.5,376.0L497.7,374.2L497.9,372.5L498.1,370.8L498.3,369.3L498.5,368.1L498.6,367.0L498.8,365.7L498.9,364.3L499.1,362.8L499.2,361.2L499.4,359.6L499.6,358.0L499.7,356.4L499.9,354.9L500.0,353.6L500.2,352.4L500.3,351.3L500.5,350.5L501.1,348.4L502.0,346.9L502.8,345.9L503.5,345.3L504.1,346.0L504.8,347.1L505.5,348.7L506.0,350.5L506.2,351.5L506.4,352.7L506.7,354.3L506.9,355.9L507.2,357.6L507.4,359.2L507.6,360.8L507.8,362.1L508.0,363.1L508.4,365.2L508.9,367.5L509.3,369.0L509.8,369.4L510.0,368.7L510.2,367.7L510.5,366.4L510.8,364.9L511.0,363.2L511.3,361.5L511.6,359.7L511.9,358.1L512.1,356.7L512.3,355.5L512.5,354.1L512.8,352.6L513.0,351.0L513.3,349.3L513.6,347.7L513.8,346.3L514.1,345.1L514.3,344.2L515.4,341.9L516.6,341.3L517.2,342.1L517.9,343.4L518.7,345.0L519.5,346.7L520.1,348.0L520.5,349.2L521.0,350.7L521.5,352.3L522.0,353.8L522.6,354.9L523.1,355.3L523.7,354.9L524.6,354.0L525.5,352.6L526.4,351.1L527.3,349.7L528.1,348.6L528.9,347.6L529.7,346.5L530.6,345.4L531.6,344.3L532.4,343.2L533.2,342.4L534.1,341.4L535.2,340.3L536.4,339.2L537.4,338.3L538.2,338.1L539.2,338.3L540.1,339.2L540.9,341.0L541.1,341.8L541.3,342.7L541.5,343.9L541.8,345.2L542.0,346.6L542.2,348.0L542.4,349.6L542.6,351.1L542.8,352.6L543.0,354.0L543.1,354.9L543.2,356.1L543.3,357.3L543.5,358.6L543.6,360.1L543.7,361.6L543.9,363.1L544.0,364.7L544.1,366.3L544.3,367.9L544.4,369.4L544.5,370.8L544.7,372.2L544.8,373.5L544.9,374.6L545.0,375.6L545.1,377.0L545.3,378.6L545.5,380.2L545.6,381.9L545.8,383.5L546.0,385.1L546.2,386.6L546.4,387.9L546.6,389.0L546.8,389.8L547.0,390.4L547.6,390.3L548.4,389.1L549.3,387.4L550.2,385.7L550.8,384.5L551.6,383.8L552.4,383.3L553.3,380.5L553.4,379.8L553.6,379.0L553.7,378.0L553.9,377.0L554.1,375.8L554.2,374.5L554.4,373.1L554.6,371.7L554.8,370.2L555.0,368.6L555.2,367.0L555.5,365.4L555.7,363.8L555.9,362.2L556.1,360.6L556.3,359.0L556.5,357.5L556.7,356.1L556.9,354.7L557.0,353.3L557.2,352.1L557.4,351.0L557.5,350.0L557.7,348.8L557.9,347.4L558.1,346.1L558.3,344.7L558.5,343.2L558.7,341.7L558.9,340.2L559.1,338.7L559.3,337.3L559.5,335.8L559.7,334.4L559.9,333.0L560.1,331.7L560.3,330.5L560.5,329.4L560.7,328.3L560.8,327.4L561.0,326.6L561.4,324.8L561.8,323.3L562.2,321.9L562.6,320.6L563.1,319.4L563.5,318.2L564.0,317.0L564.4,316.0L564.8,314.8L565.3,313.5L565.9,312.1L566.4,310.6L567.0,309.2L567.6,307.8L568.1,306.5L568.6,305.4L569.0,304.5L569.7,303.1L570.4,301.7L571.2,300.2L572.0,299.0L572.7,298.0L573.3,297.3L574.9,296.6L576.3,297.8L576.5,298.5L576.6,299.3L576.8,300.3L576.9,301.4L577.1,302.6L577.3,304.0L577.4,305.5L577.6,307.0L577.7,308.6L577.9,310.3L578.0,312.0L578.2,313.7L578.3,315.4L578.4,316.2L578.4,317.1L578.5,318.2L578.5,319.3L578.6,320.5L578.7,321.7L578.7,323.0L578.8,324.4L578.9,325.9L579.0,327.4L579.0,328.9L579.1,330.4L579.2,332.0L579.3,333.5L579.3,335.1L579.4,336.7L579.5,338.2L579.6,339.8L579.7,341.3L579.7,342.7L579.8,344.2L579.9,345.6L579.9,346.9L580.0,348.1L580.1,349.3L580.1,350.4L580.2,351.4L580.2,352.3L580.3,353.1L580.4,354.9L580.6,356.8L580.7,358.8L580.9,360.6L581.0,362.5L581.2,364.2L581.4,365.7L581.5,367.0L581.7,368.1L581.8,368.8L582.0,369.3L582.1,369.3L582.2,369.0L582.3,368.5L582.4,367.7L582.6,366.7L582.7,365.5L582.8,364.2L583.0,362.7L583.1,361.1L583.2,359.4L583.4,357.7L583.5,356.0L583.6,354.3L583.8,352.6L583.9,351.0L584.0,349.4L584.1,348.0L584.2,347.1L584.2,346.1L584.3,345.0L584.4,343.8L584.4,342.6L584.5,341.3L584.6,339.9L584.7,338.5L584.7,337.1L584.8,335.6L584.9,334.1L585.0,332.6L585.1,331.1L585.1,329.6L585.2,328.1L585.3,326.6L585.4,325.2L585.4,323.8L585.5,322.4L585.6,321.1L585.7,319.8L585.7,318.6L585.8,317.4L585.8,316.4L585.9,315.4L586.0,314.1L586.1,312.8L586.1,311.4L586.2,309.9L586.3,308.3L586.4,306.8L586.5,305.2L586.6,303.6L586.7,302.1L586.8,300.5L586.9,299.0L587.0,297.6L587.1,296.2L587.2,294.9L587.3,293.7L587.3,292.7L587.4,291.7L587.5,290.9L587.6,290.3L588.5,288.2L589.6,289.1L590.4,289.6L591.4,290.6L592.5,291.9L593.4,292.8L594.3,293.8L595.3,294.9L596.4,295.9L597.2,296.5L598.9,295.2L600.4,295.3L600.6,296.0L600.9,297.0L601.1,298.3L601.4,299.8L601.6,301.4L601.9,303.1L602.1,304.8L602.4,306.5L602.6,308.0L602.8,309.3L603.0,310.4L603.3,311.9L603.5,313.6L603.8,315.5L604.1,317.3L604.4,318.9L604.7,320.2L604.9,320.9L605.2,320.9L605.4,320.5L605.5,319.8L605.7,318.7L605.9,317.5L606.1,316.0L606.4,314.4L606.6,312.7L606.8,311.0L607.0,309.3L607.3,307.7L607.5,306.2L607.7,304.8L607.8,303.7L608.0,302.8L608.5,300.8L609.0,298.9L609.5,297.3L610.0,296.2L610.5,295.9L611.0,296.3L611.6,297.6L612.3,299.4L612.9,301.2L613.5,302.8L613.9,303.8L614.3,304.9L614.8,306.1L615.4,307.4L615.9,308.8L616.4,310.2L616.9,311.6L617.3,312.9L617.6,314.0L617.9,315.5L618.2,317.1L618.6,319.0L619.0,320.9L619.3,322.7L619.7,324.4L620.1,325.8L620.4,327.0L620.7,327.7L621.0,327.9L621.2,327.6L621.5,326.9L621.8,325.9L622.1,324.6L622.4,323.1L622.8,321.5L623.1,319.7L623.4,317.9L623.7,316.1L624.0,314.4L624.3,312.9L624.6,311.5L624.8,310.4L625.1,309.1L625.4,307.6L625.8,306.0L626.1,304.4L626.5,302.8L626.8,301.2L627.2,299.7L627.5,298.4L627.8,297.3L628.1,296.5L629.2,294.5L630.4,293.2L631.6,293.0L633.0,293.1L634.6,294.4L636.1,295.3L637.3,296.0L638.7,296.9L640.1,297.7L641.1,297.2L641.5,296.6L641.9,295.5L642.3,294.0L642.7,292.4L643.1,290.7L643.4,289.1L643.7,287.7L643.9,286.6L644.2,285.2L644.5,283.6L644.8,281.9L645.0,280.2L645.3,278.6L645.6,277.2L645.9,276.0L646.2,275.2L647.3,273.8L648.7,273.7L649.9,273.2L651.8,273.2L653.7,272.8L654.8,271.4L655.9,269.6L657.0,268.8L657.7,269.7L658.6,271.3L659.5,273.2L660.4,274.6L661.2,275.1L661.8,274.7L662.5,273.6L663.4,272.1L664.2,270.5L665.0,269.0L665.7,267.9L666.3,267.8L666.8,268.1L667.4,269.2L667.9,270.8L668.5,272.5L669.0,274.2L669.5,275.6L670.0,276.6L671.9,276.8L673.8,276.7L675.2,276.0L676.9,275.4L678.0,275.2" fill="none" stroke="#ff0000" stroke-width="4.3" stroke-linejoin="round" stroke-linecap="round"/>
<path d="M58.3,620.8L59.3,620.6L60.8,620.1L62.5,619.7L64.0,619.1L65.5,619.5L67.2,618.5L69.0,619.9L70.4,620.1L72.1,619.6L73.8,619.8L75.4,618.4L76.6,618.8L77.9,617.5L79.3,617.6L80.4,617.2L81.5,617.7L82.7,619.1L83.9,620.2L84.9,621.4L86.0,620.0L87.2,618.3L88.4,617.6L89.8,616.4L91.5,618.1L93.0,617.0L94.4,616.8L96.1,616.4L97.5,615.1L98.3,616.4L99.2,617.8L100.2,619.3L101.1,620.7L101.8,622.2L103.6,620.8L105.5,620.7L106.6,620.2L107.9,621.8L109.3,621.9L110.6,623.1L111.5,623.6L112.5,624.4L113.7,625.6L114.8,626.5L115.9,627.3L116.8,627.3L117.9,627.4L119.1,626.5L120.4,625.1L121.6,624.7L122.6,623.5L123.6,624.5L124.7,625.6L125.9,626.8L127.1,628.1L128.1,629.0L129.2,629.8L130.6,629.7L132.0,631.4L133.3,630.4L134.4,632.2L135.7,632.3L137.0,632.8L138.3,634.4L139.4,633.6L140.3,633.5L141.4,632.2L142.3,630.9L143.2,630.0L144.4,631.2L145.8,631.8L147.0,633.5L148.2,632.1L149.5,630.8L150.8,629.3L151.9,628.9L153.3,628.2L154.8,627.8L156.0,626.5L157.3,627.0L158.7,626.0L160.2,625.7L161.5,624.3L162.8,624.8L164.3,622.7L165.8,622.8L167.0,622.0L168.2,622.0L169.6,620.8L171.0,621.4L172.0,620.2L173.5,619.8L175.1,619.5L176.1,619.9L177.4,620.6L178.8,621.5L180.2,622.6L181.4,623.2L182.9,622.2L184.5,622.3L186.2,623.1L187.7,622.0L188.9,622.6L190.2,622.8L191.6,623.9L192.9,624.5L194.0,624.7L195.2,625.5L196.6,626.0L197.9,627.6L199.0,626.2L200.1,627.3L201.4,626.3L202.8,625.1L204.0,625.9L205.1,625.9L206.4,626.5L207.8,627.7L209.1,628.0L210.3,629.2L211.8,628.8L213.5,630.2L215.2,629.0L216.6,630.0L217.8,630.6L219.2,631.1L220.5,632.0L221.6,632.1L223.1,632.9L224.7,633.5L225.9,634.8L226.1,635.6L226.4,636.7L226.6,638.0L226.8,639.4L227.0,641.0L227.2,642.6L227.4,644.1L227.6,645.6L227.7,646.9L227.9,647.9L228.2,649.4L228.4,651.1L228.7,652.9L229.1,654.6L229.4,656.0L229.6,657.0L229.9,657.6L230.1,657.0L230.4,656.0L230.7,654.5L231.0,652.7L231.3,650.9L231.6,649.2L231.9,647.9L232.2,646.5L232.5,644.8L232.9,642.9L233.3,641.1L233.6,639.5L233.9,638.3L234.2,638.1L234.5,638.1L234.9,639.3L235.3,641.0L235.6,643.2L235.9,645.4L236.0,646.2L236.1,647.2L236.2,648.3L236.3,649.6L236.4,650.9L236.5,652.4L236.6,653.8L236.7,655.4L236.8,656.9L236.9,658.5L237.0,660.0L237.1,661.5L237.2,662.9L237.3,664.3L237.4,665.5L237.5,666.5L237.5,667.7L237.6,668.9L237.7,670.2L237.7,671.6L237.8,673.0L237.9,674.5L238.0,676.0L238.1,677.5L238.1,679.0L238.2,680.5L238.3,682.0L238.4,683.5L238.4,684.9L238.5,686.3L238.6,687.6L238.6,688.9L238.7,690.0L238.8,691.1L238.8,692.2L238.9,693.4L238.9,694.6L239.0,695.9L239.1,697.1L239.1,698.5L239.2,699.8L239.3,701.2L239.4,702.6L239.4,704.0L239.5,705.4L239.6,706.8L239.7,708.2L239.7,709.6L239.8,711.0L239.9,712.4L239.9,713.8L240.0,715.1L240.0,716.0L240.1,717.0L240.1,718.0L240.2,719.1L240.2,720.3L240.3,721.5L240.4,722.8L240.4,724.1L240.5,725.4L240.5,726.8L240.6,728.2L240.7,729.7L240.7,731.1L240.8,732.6L240.9,734.1L240.9,735.5L241.0,737.0L241.1,738.5L241.1,739.9L241.2,741.4L241.2,742.8L241.3,744.2L241.4,745.6L241.4,746.9L241.5,748.2L241.5,749.4L241.6,750.6L241.7,751.7L241.7,752.8L241.7,753.9L241.8,755.0L241.9,756.2L241.9,757.5L242.0,758.8L242.0,760.1L242.1,761.5L242.2,763.0L242.2,764.4L242.3,765.9L242.4,767.4L242.4,768.9L242.5,770.4L242.6,771.9L242.6,773.4L242.7,774.9L242.8,776.4L242.9,777.8L242.9,779.2L243.0,780.6L243.1,781.9L243.1,783.2L243.2,784.5L243.2,785.7L243.3,786.8L243.3,787.8L243.4,788.8L243.5,789.7L243.5,790.5L243.6,792.2L243.7,794.1L243.8,795.9L243.9,797.7L244.1,799.5L244.2,801.2L244.3,802.9L244.4,804.3L244.6,805.6L244.7,806.6L244.8,807.4L244.9,807.9L245.0,808.1L245.1,807.9L245.2,807.4L245.3,806.6L245.5,805.6L245.6,804.3L245.8,802.9L245.9,801.2L246.1,799.5L246.2,797.7L246.3,795.9L246.5,794.1L246.6,792.2L246.7,790.5L246.7,789.7L246.8,788.8L246.9,787.8L246.9,786.8L247.0,785.7L247.0,784.5L247.1,783.2L247.2,781.9L247.2,780.6L247.3,779.2L247.4,777.8L247.4,776.4L247.5,774.9L247.6,773.4L247.6,771.9L247.7,770.4L247.8,768.9L247.9,767.4L247.9,765.9L248.0,764.4L248.1,763.0L248.1,761.5L248.2,760.1L248.2,758.8L248.3,757.5L248.3,756.2L248.4,755.0L248.5,753.9L248.5,752.8L248.5,751.7L248.6,750.6L248.6,749.4L248.7,748.2L248.7,746.9L248.8,745.6L248.8,744.3L248.9,742.9L249.0,741.5L249.0,740.1L249.1,738.7L249.1,737.2L249.2,735.8L249.2,734.3L249.3,732.8L249.3,731.4L249.4,730.0L249.4,728.5L249.5,727.1L249.5,725.7L249.6,724.4L249.7,723.1L249.7,721.8L249.8,720.5L249.8,719.3L249.9,718.2L249.9,717.1L250.0,716.1L250.0,715.1L250.1,713.9L250.1,712.5L250.2,711.1L250.3,709.6L250.3,708.0L250.4,706.4L250.5,704.8L250.6,703.1L250.7,701.4L250.8,699.7L250.8,698.1L250.9,696.5L251.0,694.9L251.1,693.4L251.2,692.0L251.3,690.7L251.4,689.4L251.4,688.3L251.5,687.3L251.6,686.5L251.7,685.8L251.7,685.3L251.8,685.0L251.9,684.7L252.0,685.2L252.2,685.9L252.3,686.9L252.4,688.3L252.6,689.8L252.7,691.6L252.9,693.4L253.0,695.3L253.2,697.3L253.3,699.2L253.4,701.0L253.5,702.6L253.6,703.5L253.6,704.4L253.7,705.5L253.7,706.7L253.8,708.0L253.8,709.3L253.9,710.7L254.0,712.1L254.0,713.6L254.1,715.1L254.1,716.7L254.2,718.2L254.3,719.8L254.3,721.4L254.4,722.9L254.5,724.4L254.5,725.9L254.6,727.3L254.7,728.7L254.7,730.0L254.8,731.2L254.8,732.4L254.9,733.4L254.9,734.4L255.0,735.2L255.1,737.0L255.3,738.9L255.4,740.9L255.6,742.8L255.8,744.6L256.0,746.3L256.2,747.8L256.3,749.0L256.5,749.9L256.7,750.3L256.8,750.3L256.9,750.0L257.0,749.4L257.1,748.6L257.2,747.7L257.3,746.5L257.4,745.2L257.5,743.7L257.6,742.2L257.7,740.6L257.8,738.9L257.9,737.2L258.1,735.5L258.2,733.8L258.3,732.1L258.3,730.6L258.4,729.1L258.5,727.7L258.5,726.8L258.6,725.8L258.7,724.7L258.7,723.5L258.8,722.3L258.8,721.1L258.9,719.8L258.9,718.4L259.0,717.0L259.0,715.6L259.1,714.2L259.1,712.7L259.2,711.2L259.3,709.8L259.3,708.3L259.4,706.8L259.4,705.4L259.5,703.9L259.5,702.5L259.6,701.2L259.6,699.8L259.7,698.5L259.7,697.3L259.8,696.1L259.8,695.0L259.8,693.9L259.9,692.8L259.9,691.5L260.0,690.2L260.0,688.9L260.0,687.5L260.1,686.0L260.1,684.5L260.2,683.0L260.2,681.5L260.3,679.9L260.3,678.4L260.4,676.8L260.4,675.3L260.5,673.8L260.5,672.3L260.6,670.8L260.6,669.3L260.7,668.0L260.7,666.6L260.8,665.3L260.8,664.1L260.9,662.9L260.9,661.9L261.0,660.9L261.0,660.0L261.1,658.5L261.2,657.0L261.3,655.5L261.4,654.0L261.6,652.5L261.7,651.0L261.8,649.5L262.0,648.1L262.1,646.8L262.3,645.5L262.4,644.3L262.6,643.1L262.7,642.1L262.9,641.2L263.0,640.4L263.4,638.7L263.8,637.1L264.4,635.7L264.9,634.6L265.5,633.6L266.0,632.8L266.9,631.8L268.1,631.3L269.4,630.1L270.6,630.4L272.0,629.7L273.7,630.8L275.5,631.1L276.9,630.7L278.1,630.8L279.4,629.4L280.7,629.0L281.9,629.2L283.2,629.3L284.8,630.3L286.4,630.8L287.7,631.3L288.5,630.5L289.4,629.3L290.3,627.9L291.2,626.5L292.0,625.3L292.7,624.4L293.6,623.2L294.5,622.0L295.4,620.8L296.3,619.8L297.0,619.0L298.1,617.9L299.3,616.8L300.5,615.9L301.5,615.5L302.9,615.8L304.4,617.1L305.8,617.7L307.2,617.3L308.9,616.9L310.4,617.6L311.9,617.4L313.5,618.9L315.0,619.2L316.1,619.2L317.5,618.3L318.8,618.2L320.0,617.4L321.6,618.3L323.4,618.2L325.0,619.1L326.5,617.8L328.2,617.2L329.6,616.4L330.6,617.0L331.8,618.0L332.9,618.9L333.9,620.0L335.2,620.5L336.8,621.5L338.1,621.1L339.1,620.7L340.1,619.2L341.2,617.8L342.2,617.4L342.7,618.4L343.2,619.6L343.7,621.3L344.3,623.1L344.9,624.9L345.4,626.5L346.0,627.7L346.4,627.9L347.1,628.0L347.9,627.0L348.7,625.5L349.5,623.9L350.2,622.8L351.1,621.7L352.0,620.4L353.1,619.4L354.0,618.8L354.8,619.4L355.9,620.2L357.0,621.6L358.1,622.7L359.0,623.4L360.6,623.4L362.4,624.6L364.0,623.6L364.9,623.4L366.0,622.0L367.1,620.7L368.2,619.5L369.0,618.5L369.9,619.4L370.9,620.5L371.9,621.8L372.8,622.8L373.9,623.5L375.2,624.7L376.6,625.5L377.8,625.7L379.4,626.8L381.3,626.2L382.9,626.1L384.5,626.8L386.3,625.4L387.9,625.0L389.5,625.4L391.3,623.3L392.9,624.6L394.1,624.1L395.4,625.4L396.7,625.5L397.9,626.4L398.8,627.3L399.9,628.4L401.0,629.6L402.1,630.3L403.0,631.3L403.9,630.1L405.0,629.3L406.1,628.0L407.1,626.7L408.0,625.8L409.5,624.9L411.1,623.6L412.5,623.2L413.5,623.9L414.6,625.4L415.8,626.6L416.8,626.9L417.9,626.7L419.3,625.5L420.7,624.7L421.8,624.3L422.8,624.3L423.9,625.7L425.0,626.8L426.1,628.1L427.4,628.4L429.0,628.5L430.6,629.0L431.9,628.8L433.1,629.5L434.5,630.8L435.8,631.8L436.9,632.7L437.9,633.8L439.0,634.9L440.1,636.2L441.0,637.5L441.5,638.4L442.1,639.4L442.6,640.5L443.2,641.8L443.6,643.4L444.0,645.3L444.1,646.1L444.2,647.0L444.3,648.1L444.4,649.2L444.5,650.5L444.6,651.8L444.7,653.2L444.8,654.7L444.9,656.2L445.0,657.7L445.1,659.3L445.2,660.8L445.3,662.3L445.4,663.8L445.5,665.3L445.5,666.7L445.6,668.0L445.6,669.0L445.7,670.0L445.7,671.1L445.8,672.2L445.8,673.5L445.9,674.7L445.9,676.0L446.0,677.4L446.0,678.8L446.1,680.2L446.1,681.7L446.2,683.1L446.2,684.6L446.3,686.1L446.3,687.6L446.4,689.1L446.4,690.5L446.5,692.0L446.5,693.4L446.6,694.8L446.6,696.2L446.6,697.5L446.7,698.8L446.7,700.0L446.7,701.0L446.8,702.1L446.8,703.2L446.8,704.3L446.8,705.6L446.9,706.8L446.9,708.2L446.9,709.5L447.0,710.9L447.0,712.3L447.0,713.8L447.1,715.2L447.1,716.7L447.1,718.2L447.2,719.7L447.2,721.2L447.2,722.7L447.3,724.2L447.3,725.7L447.3,727.1L447.3,728.6L447.4,730.0L447.4,731.4L447.4,732.8L447.5,734.1L447.5,735.4L447.5,736.6L447.5,737.8L447.6,738.9L447.6,740.0L447.6,741.1L447.7,742.3L447.7,743.5L447.7,744.8L447.7,746.1L447.8,747.5L447.8,748.9L447.8,750.3L447.9,751.8L447.9,753.2L448.0,754.7L448.0,756.2L448.0,757.7L448.1,759.2L448.1,760.7L448.1,762.2L448.2,763.7L448.2,765.1L448.3,766.5L448.3,767.9L448.3,769.3L448.4,770.6L448.4,771.8L448.4,773.0L448.5,774.1L448.5,775.2L448.5,776.2L448.6,777.2L448.6,778.0L448.7,779.6L448.7,781.3L448.8,783.1L448.9,785.0L448.9,786.8L449.0,788.6L449.1,790.3L449.1,792.0L449.2,793.5L449.3,794.9L449.4,796.1L449.5,797.1L449.5,797.9L449.6,798.3L449.7,798.4L449.8,798.3L449.9,797.9L450.0,797.1L450.1,796.1L450.2,794.9L450.4,793.5L450.5,791.9L450.7,790.3L450.8,788.5L450.9,786.7L451.1,784.9L451.2,783.0L451.3,781.2L451.4,779.5L451.5,777.9L451.5,777.0L451.6,776.1L451.6,775.1L451.7,774.0L451.7,772.8L451.7,771.5L451.8,770.2L451.8,768.9L451.9,767.5L451.9,766.0L452.0,764.6L452.0,763.1L452.0,761.6L452.1,760.0L452.1,758.5L452.2,757.0L452.2,755.4L452.2,753.9L452.3,752.4L452.3,751.0L452.4,749.5L452.4,748.1L452.4,746.8L452.5,745.5L452.5,744.2L452.6,743.1L452.6,742.0L452.7,740.9L452.7,740.0L452.8,738.7L452.8,737.3L452.9,736.0L453.0,734.6L453.1,733.1L453.2,731.7L453.3,730.2L453.4,728.8L453.5,727.4L453.6,725.9L453.7,724.5L453.8,723.1L453.9,721.7L454.0,720.3L454.1,719.0L454.2,717.7L454.3,716.5L454.4,715.3L454.5,714.2L454.6,713.1L454.7,712.0L454.8,710.7L454.9,709.4L455.1,708.1L455.2,706.7L455.3,705.2L455.5,703.8L455.6,702.3L455.8,700.8L455.9,699.3L456.1,697.8L456.2,696.4L456.4,695.0L456.5,693.6L456.7,692.3L456.8,691.1L456.9,689.9L457.0,688.9L457.1,687.9L457.2,686.5L457.4,685.1L457.5,683.7L457.6,682.2L457.8,680.7L457.9,679.2L458.1,677.7L458.2,676.3L458.3,674.9L458.5,673.6L458.6,672.4L458.7,671.4L458.8,670.4L459.0,668.9L459.2,667.2L459.3,665.5L459.5,663.9L459.7,662.3L460.0,660.9L460.2,659.8L460.5,659.0L461.6,657.7L463.1,657.6L464.5,658.3L465.7,657.5L467.3,656.5L468.9,655.4L470.2,654.8L471.1,653.9L472.1,652.6L473.2,651.2L474.2,650.0L475.2,649.0L476.3,648.1L477.6,647.6L479.0,646.3L480.3,646.4L481.5,645.0L482.7,646.1L484.0,646.5L485.4,646.8L486.7,646.9L487.7,647.6L489.1,648.7L490.5,649.2L491.5,649.7L492.2,648.4L492.9,646.4L493.5,646.5L493.7,646.5L493.9,647.4L494.1,648.4L494.3,649.7L494.6,651.2L494.8,652.8L495.0,654.5L495.1,656.1L495.3,657.8L495.4,658.6L495.4,659.6L495.5,660.7L495.6,661.9L495.6,663.2L495.7,664.5L495.7,666.0L495.8,667.4L495.9,668.9L495.9,670.4L496.0,672.0L496.1,673.5L496.1,675.0L496.2,676.5L496.3,677.9L496.3,679.3L496.4,680.6L496.4,681.8L496.5,682.9L496.6,684.0L496.6,685.2L496.7,686.5L496.8,687.9L496.9,689.3L497.0,690.8L497.1,692.3L497.2,693.9L497.3,695.4L497.4,696.9L497.5,698.4L497.6,699.9L497.7,701.3L497.8,702.7L497.9,704.0L498.0,705.1L498.0,706.2L498.1,707.2L498.2,708.0L498.4,709.8L498.6,711.7L498.8,713.5L499.0,715.1L499.2,716.5L499.4,717.6L499.6,718.3L499.8,718.5L500.0,718.1L500.2,717.3L500.4,716.0L500.6,714.5L500.8,712.8L501.0,711.0L501.2,709.2L501.4,707.5L501.6,706.0L501.7,705.0L501.8,703.7L502.0,702.4L502.1,700.9L502.2,699.4L502.3,697.8L502.5,696.1L502.6,694.5L502.8,693.0L502.9,691.5L503.0,690.2L503.2,688.9L503.3,687.9L503.5,686.5L503.7,685.0L504.0,683.4L504.3,681.9L504.6,680.4L504.9,678.9L505.2,677.6L505.5,676.4L505.8,675.4L506.3,673.9L507.0,672.3L507.8,670.7L508.5,669.3L509.2,668.2L509.8,668.0L510.4,668.2L511.1,669.4L511.7,671.0L512.4,672.6L512.9,674.0L513.3,675.1L513.8,676.6L514.3,678.2L514.9,679.7L515.4,680.8L516.0,682.0L516.9,680.8L518.1,679.8L519.5,678.2L520.7,676.9L521.7,676.4L522.5,677.1L523.3,678.2L524.1,679.8L524.9,681.4L525.5,683.0L525.8,684.0L526.2,685.2L526.5,686.5L526.9,688.0L527.3,689.5L527.6,691.1L528.0,692.5L528.3,693.9L528.6,695.0L529.0,696.2L529.4,697.6L529.8,699.0L530.3,700.5L530.7,702.0L531.2,703.4L531.6,704.8L532.0,706.0L532.3,707.1L532.7,708.3L533.1,709.7L533.6,711.1L534.0,712.6L534.4,714.0L534.8,715.3L535.2,716.5L535.5,717.5L535.9,718.8L536.2,720.3L536.6,721.9L537.0,723.5L537.4,724.8L537.8,725.8L538.2,725.8L539.4,725.6L540.8,723.7L542.0,723.2L542.4,723.4L542.8,724.3L543.3,725.6L543.7,727.1L544.0,728.9L544.4,731.0L544.5,731.8L544.6,732.8L544.8,733.9L544.9,735.2L545.1,736.5L545.2,738.0L545.4,739.5L545.6,741.1L545.7,742.7L545.9,744.3L546.0,745.9L546.2,747.5L546.4,749.0L546.5,750.5L546.6,751.9L546.8,753.1L546.9,754.3L547.0,755.3L547.1,756.6L547.3,758.1L547.5,759.6L547.6,761.2L547.8,762.7L548.0,764.3L548.1,765.8L548.3,767.3L548.4,768.7L548.6,770.0L548.7,771.1L548.9,772.1L549.0,772.9L549.4,775.1L549.9,776.9L550.4,778.0L550.8,777.8L551.0,777.4L551.2,776.5L551.4,775.3L551.7,773.9L551.9,772.3L552.2,770.6L552.4,768.9L552.6,767.1L552.8,765.4L552.9,764.5L553.0,763.5L553.1,762.4L553.2,761.2L553.3,759.9L553.3,758.6L553.4,757.1L553.6,755.7L553.7,754.2L553.8,752.6L553.9,751.1L554.0,749.6L554.1,748.1L554.2,746.6L554.3,745.2L554.3,743.8L554.4,742.6L554.5,741.4L554.6,740.3L554.7,739.1L554.8,737.8L554.9,736.4L555.0,734.9L555.1,733.3L555.2,731.7L555.4,730.1L555.5,728.5L555.6,726.8L555.7,725.3L555.9,723.8L556.0,722.3L556.1,721.0L556.2,719.8L556.3,718.7L556.4,717.8L556.5,717.0L556.9,714.5L557.4,712.8L557.9,712.2L558.4,711.9L558.7,712.7L559.1,714.2L559.5,716.1L559.9,718.2L560.3,720.0L560.7,721.4L561.0,722.0L561.4,721.7L561.8,720.7L562.3,719.2L562.8,717.4L563.2,715.6L563.6,714.0L563.8,713.0L564.0,711.8L564.3,710.4L564.5,708.9L564.8,707.3L565.0,705.7L565.3,704.2L565.5,702.8L565.8,701.5L566.0,700.5L566.4,699.2L566.8,697.9L567.3,696.6L567.9,695.3L568.4,694.1L568.9,693.0L569.4,692.0L570.0,690.9L570.8,689.7L571.7,688.5L572.5,687.3L573.3,686.1L574.0,685.0L574.5,684.0L575.1,682.7L575.7,681.3L576.3,679.9L576.9,678.6L577.5,677.4L578.0,676.5L579.1,675.3L580.4,674.6L581.6,673.4L582.5,672.0L582.8,671.2L583.1,670.1L583.3,668.8L583.6,667.5L583.8,666.0L584.0,664.5L584.2,663.0L584.3,661.6L584.5,660.3L584.6,659.3L584.7,658.0L584.8,656.6L584.9,655.1L585.0,653.5L585.1,651.9L585.2,650.3L585.3,648.8L585.4,647.3L585.5,646.0L585.6,644.9L585.7,644.0L586.0,642.0L586.3,640.0L586.7,638.3L587.0,637.3L587.3,637.1L587.4,637.7L587.6,638.5L587.8,639.7L588.0,641.1L588.1,642.7L588.3,644.4L588.5,646.1L588.7,647.8L588.9,649.5L589.0,651.0L589.1,652.0L589.2,653.2L589.3,654.5L589.4,656.0L589.5,657.6L589.6,659.2L589.7,660.9L589.8,662.6L589.9,664.2L590.1,665.8L590.2,667.4L590.3,668.8L590.4,670.1L590.6,671.3L590.7,672.2L590.8,672.9L592.3,674.8L594.0,674.3L594.9,674.1L596.0,672.7L597.2,671.5L598.3,670.2L599.3,669.8L600.5,668.9L601.8,668.1L603.1,667.1L604.0,666.5L604.8,665.5L605.6,664.3L606.3,662.9L607.0,661.4L607.5,660.0L607.8,658.9L608.1,657.6L608.3,656.0L608.6,654.3L608.9,652.7L609.1,651.2L609.3,649.9L609.5,649.0L610.1,646.3L610.7,645.2L611.0,646.1L611.5,647.2L612.0,648.6L612.5,650.2L613.0,651.7L613.5,652.9L614.0,654.0L614.7,655.3L615.4,656.6L616.1,658.0L616.7,659.3L617.3,660.4L617.9,661.5L618.5,662.6L619.2,663.9L619.9,665.2L620.5,666.6L621.0,667.9L621.3,668.9L621.6,670.0L621.9,671.2L622.2,672.6L622.5,674.1L622.8,675.6L623.1,677.2L623.4,678.8L623.6,680.5L623.7,681.4L623.8,682.4L624.0,683.5L624.1,684.7L624.2,686.0L624.4,687.4L624.5,688.9L624.7,690.4L624.8,691.9L625.0,693.5L625.1,695.0L625.3,696.6L625.4,698.1L625.6,699.5L625.7,700.9L625.8,702.2L625.9,703.5L626.0,704.6L626.1,705.6L626.2,707.0L626.3,708.5L626.4,710.2L626.5,712.0L626.5,713.9L626.6,715.7L626.7,717.5L626.8,719.2L626.9,720.8L626.9,722.2L627.0,723.4L627.1,724.2L627.2,724.8L627.3,725.3L627.4,724.8L627.5,724.3L627.7,723.5L627.8,722.4L628.0,721.1L628.2,719.7L628.4,718.1L628.5,716.4L628.7,714.7L628.9,713.0L629.1,711.3L629.3,709.6L629.5,708.1L629.6,706.8L629.8,705.6L630.0,704.5L630.2,703.3L630.4,702.0L630.6,700.6L630.8,699.2L631.0,697.8L631.3,696.3L631.5,694.8L631.8,693.4L632.0,691.9L632.3,690.5L632.5,689.1L632.7,687.8L632.9,686.6L633.1,685.5L633.3,684.4L633.5,683.1L633.7,681.7L634.0,680.2L634.2,678.7L634.5,677.2L634.7,675.6L635.0,674.0L635.2,672.5L635.5,671.1L635.7,669.7L636.0,668.4L636.2,667.2L636.4,666.2L636.6,665.4L637.1,663.7L637.6,662.2L638.2,660.9L638.8,659.8L639.4,658.8L639.9,657.9L640.6,656.7L641.6,655.2L642.6,653.9L643.5,653.1L644.2,652.4L644.6,653.5L645.0,654.6L645.4,656.1L645.8,657.9L646.2,659.7L646.6,661.4L646.9,662.9L647.1,664.0L647.4,665.4L647.6,667.1L647.9,668.8L648.2,670.6L648.4,672.3L648.7,673.8L649.0,674.9L649.2,675.7L649.4,676.1L649.6,675.7L649.8,674.9L650.1,673.6L650.3,672.1L650.6,670.4L650.8,668.6L651.1,666.8L651.4,665.2L651.6,663.9L651.9,662.9L652.6,661.5L653.4,660.4L654.4,659.5L655.4,658.6L656.2,657.6L657.3,657.6L658.6,656.5L660.0,656.1L661.2,655.8L662.3,656.2L663.7,657.1L665.1,658.2L666.5,658.8L667.5,659.9L668.2,661.0L668.8,662.6L669.5,664.4L670.1,666.1L670.7,667.3L671.3,667.4L672.0,667.8L672.8,666.6L673.6,665.3L674.5,663.8L675.5,662.5L676.3,661.7L677.6,661.6L679.2,661.0L681.0,660.4L682.5,660.4L683.4,660.4" fill="none" stroke="#00ff00" stroke-width="4.3" stroke-linejoin="round" stroke-linecap="round"/>
<path d="M57.3,865.3L58.2,865.6L59.7,865.5L61.4,865.6L62.8,865.6L64.2,866.5L65.9,866.0L67.6,866.8L69.1,866.2L70.6,867.2L72.3,866.8L74.0,868.2L75.4,867.8L77.1,867.4L78.8,866.9L80.4,866.7L82.0,866.5L83.8,867.7L85.4,868.0L86.6,867.3L88.0,867.4L89.4,866.4L90.5,866.3L92.0,865.1L93.6,864.6L95.0,864.9L96.8,865.3L98.5,865.7L99.7,864.9L101.2,863.9L102.5,863.7L103.5,863.7L104.7,865.0L105.8,865.7L106.8,866.4L108.0,867.4L109.4,867.7L110.6,869.0L112.4,868.1L114.3,867.8L115.2,868.5L116.1,869.5L117.2,870.7L118.1,871.7L119.2,871.7L120.5,872.9L121.9,873.4L123.1,873.9L124.3,874.8L125.6,875.4L126.9,877.0L128.1,877.1L129.3,877.6L130.6,878.5L132.0,878.4L133.2,879.0L134.4,879.6L135.8,879.8L137.1,880.5L138.2,881.3L139.5,880.3L140.8,879.2L142.0,879.7L143.2,879.4L144.5,881.0L145.7,881.9L146.9,881.3L148.2,880.6L149.5,880.5L150.7,880.8L152.1,881.4L153.7,882.9L155.0,882.0L156.4,883.3L158.1,883.0L159.8,882.6L161.3,883.2L162.7,881.9L164.3,882.9L166.0,881.9L167.4,881.8L168.6,881.7L169.9,880.9L171.4,881.3L172.7,880.7L173.9,880.3L175.0,880.0L176.3,879.7L177.7,878.9L179.0,878.4L180.2,878.7L181.5,877.5L183.1,877.7L184.7,877.3L186.3,876.4L187.7,876.3L189.1,876.2L190.7,876.8L192.4,876.3L194.0,876.5L195.2,876.6L197.0,877.0L198.9,875.8L200.3,876.2L201.9,875.5L203.3,874.8L204.3,875.6L205.4,876.9L206.5,877.7L208.0,877.5L209.9,877.8L211.6,877.6L212.7,878.5L214.0,878.6L215.3,879.8L216.7,880.5L217.8,881.0L219.0,881.0L220.3,881.8L221.8,881.7L223.1,882.4L224.1,882.8L225.1,883.7L226.2,884.7L227.1,885.7L227.9,886.6L228.7,887.8L229.6,889.1L230.4,889.7L232.1,890.1L233.7,889.5L234.0,890.6L234.3,891.6L234.6,892.9L234.9,894.4L235.1,896.1L235.4,897.9L235.5,898.7L235.6,899.7L235.8,900.9L235.9,902.2L236.1,903.5L236.2,905.0L236.4,906.5L236.5,908.0L236.7,909.6L236.9,911.1L237.0,912.6L237.2,914.1L237.3,915.5L237.5,916.8L237.6,918.0L237.7,919.1L237.9,920.2L238.0,921.4L238.1,922.7L238.3,924.1L238.5,925.5L238.6,926.9L238.8,928.4L239.0,929.9L239.2,931.3L239.3,932.8L239.5,934.2L239.6,935.6L239.8,936.9L239.9,938.1L240.1,939.3L240.2,940.4L240.3,941.5L240.5,942.8L240.6,944.1L240.8,945.4L240.9,946.8L241.1,948.3L241.2,949.7L241.4,951.2L241.5,952.7L241.7,954.2L241.8,955.6L242.0,957.0L242.1,958.3L242.3,959.6L242.4,960.9L242.5,962.0L242.6,963.1L242.7,964.4L242.8,965.9L242.9,967.4L243.1,969.1L243.2,970.8L243.3,972.5L243.4,974.2L243.6,975.9L243.7,977.5L243.8,979.0L243.9,980.4L244.1,981.6L244.2,982.6L244.3,983.3L244.4,983.9L244.5,983.9L244.6,984.0L244.8,983.5L244.9,982.7L245.1,981.6L245.3,980.2L245.4,978.7L245.6,977.1L245.8,975.3L246.0,973.5L246.1,971.7L246.3,969.9L246.4,968.2L246.6,966.7L246.7,965.3L246.8,964.3L246.9,963.2L247.0,962.0L247.1,960.8L247.2,959.4L247.3,958.0L247.4,956.6L247.5,955.1L247.6,953.6L247.7,952.1L247.8,950.6L247.9,949.1L248.0,947.7L248.1,946.3L248.2,944.9L248.3,943.7L248.3,942.5L248.4,941.4L248.5,940.4L248.6,939.1L248.7,937.7L248.8,936.2L249.0,934.7L249.1,933.1L249.2,931.6L249.4,930.0L249.5,928.5L249.6,927.1L249.8,925.7L249.9,924.4L250.0,923.3L250.1,922.3L250.2,921.5L250.5,919.5L250.8,917.6L251.2,916.1L251.5,915.2L251.8,915.2L252.0,915.5L252.3,916.6L252.6,918.0L252.9,919.8L253.2,921.6L253.5,923.4L253.7,925.0L253.8,926.0L253.9,927.2L254.1,928.5L254.2,930.0L254.3,931.6L254.5,933.1L254.6,934.7L254.7,936.3L254.9,937.7L255.0,939.0L255.1,940.1L255.2,941.0L255.5,943.0L255.7,945.0L256.0,946.7L256.3,947.9L256.6,948.0L256.8,947.5L256.9,946.7L257.1,945.5L257.3,944.0L257.6,942.4L257.8,940.6L258.0,938.8L258.1,937.1L258.3,935.4L258.4,934.5L258.5,933.5L258.5,932.4L258.6,931.2L258.7,930.0L258.8,928.6L258.9,927.2L259.0,925.8L259.1,924.3L259.2,922.8L259.3,921.3L259.3,919.8L259.4,918.4L259.5,917.0L259.6,915.6L259.7,914.3L259.7,913.1L259.8,912.0L259.9,910.9L259.9,909.6L260.0,908.3L260.0,906.9L260.1,905.4L260.2,903.8L260.2,902.3L260.3,900.7L260.4,899.1L260.4,897.5L260.5,896.0L260.6,894.5L260.6,893.1L260.7,891.8L260.8,890.7L260.9,889.6L260.9,888.7L261.0,887.9L261.3,885.8L261.7,884.4L262.1,883.3L262.5,882.4L263.0,881.6L263.8,880.3L264.7,878.9L265.8,877.6L266.8,876.5L267.9,876.0L269.2,875.2L270.6,874.3L271.9,874.4L273.3,874.0L275.0,873.2L276.7,874.3L278.1,873.6L279.3,873.6L280.7,872.6L282.0,872.5L283.2,872.0L284.8,872.1L286.6,872.3L288.2,871.3L289.4,870.6L290.7,869.8L292.0,868.5L293.2,868.0L294.4,867.1L295.7,866.3L297.0,864.9L298.2,864.8L299.3,863.9L300.6,864.5L302.0,863.6L303.3,863.5L304.5,864.1L306.0,863.6L307.6,864.4L309.1,864.1L310.4,864.5L311.7,865.2L313.2,864.9L314.7,865.1L316.1,865.5L317.3,865.3L318.6,865.8L320.1,865.0L321.5,865.7L322.6,865.7L323.8,866.8L325.1,867.5L326.3,867.3L327.4,867.6L328.8,866.3L330.2,866.1L331.4,865.4L333.0,864.7L334.8,866.2L336.4,865.1L337.6,864.5L338.9,863.7L340.3,862.7L341.4,863.1L342.2,863.4L343.2,864.6L344.2,866.0L345.1,867.3L345.9,868.1L346.9,867.4L348.1,866.2L349.2,864.9L350.2,864.1L351.4,863.2L352.7,863.2L354.0,862.6L355.1,863.4L356.4,864.4L357.8,865.2L359.0,866.3L360.6,866.1L362.3,866.6L364.0,867.8L365.1,867.1L366.5,868.9L367.9,868.4L369.2,869.2L370.3,869.7L371.4,870.7L372.7,871.4L373.8,872.5L374.8,872.2L376.2,873.1L377.7,871.5L379.1,871.0L379.9,870.0L380.8,868.8L381.7,867.6L382.6,866.5L383.4,865.4L384.8,865.9L386.5,866.0L387.9,865.5L389.8,865.6L391.7,864.8L392.6,866.2L393.6,867.6L394.5,869.1L395.4,870.3L396.2,871.3L397.2,872.5L398.2,873.7L399.2,874.2L400.2,874.2L401.5,873.5L402.9,872.6L404.3,871.9L405.5,871.6L406.7,871.0L408.0,871.0L409.4,870.9L410.7,870.1L411.8,870.2L412.8,869.1L413.8,868.0L414.9,867.1L415.9,866.0L416.8,865.4L418.3,864.1L419.9,864.5L421.4,863.2L422.5,864.0L423.9,864.0L425.2,864.7L426.5,864.8L427.9,865.0L429.7,864.6L431.4,864.2L432.8,864.3L433.8,865.3L434.9,865.9L435.9,867.0L437.0,867.9L437.8,868.9L438.5,869.8L439.2,870.8L440.0,872.0L440.8,873.3L441.4,874.6L442.0,875.8L442.4,876.8L442.8,878.0L443.2,879.4L443.6,880.8L444.0,882.4L444.3,883.9L444.6,885.5L444.9,887.0L445.0,888.0L445.2,889.1L445.3,890.3L445.5,891.7L445.6,893.1L445.8,894.6L445.9,896.1L446.0,897.6L446.1,899.2L446.3,900.7L446.4,902.2L446.5,903.6L446.6,905.0L446.7,906.0L446.7,907.0L446.8,908.2L446.9,909.4L447.0,910.7L447.1,912.1L447.1,913.5L447.2,914.9L447.3,916.4L447.4,917.9L447.5,919.4L447.6,920.9L447.7,922.3L447.7,923.7L447.8,925.1L447.9,926.4L448.0,927.7L448.0,928.9L448.1,930.0L448.2,931.1L448.2,932.3L448.3,933.5L448.4,934.8L448.5,936.2L448.5,937.6L448.6,939.0L448.7,940.4L448.8,941.9L448.9,943.3L448.9,944.8L449.0,946.2L449.1,947.6L449.2,949.0L449.2,950.3L449.3,951.6L449.4,952.8L449.4,953.9L449.5,955.0L449.6,956.2L449.6,957.5L449.7,958.9L449.8,960.3L449.9,961.8L449.9,963.4L450.0,965.0L450.1,966.5L450.2,968.1L450.3,969.6L450.4,971.1L450.4,972.5L450.5,973.8L450.6,975.1L450.7,976.2L450.7,977.2L450.8,978.0L451.0,980.2L451.2,982.3L451.4,984.2L451.7,985.8L451.9,986.7L452.1,986.8L452.2,986.4L452.4,985.5L452.6,984.2L452.8,982.7L453.0,981.0L453.2,979.2L453.4,977.5L453.6,975.8L453.7,974.3L453.9,973.1L454.1,971.8L454.3,970.3L454.5,968.8L454.7,967.1L454.9,965.5L455.2,964.0L455.4,962.6L455.5,961.4L455.7,960.6L456.3,958.3L456.9,957.8L457.2,958.9L457.5,960.4L457.8,962.3L458.1,964.2L458.4,965.6L458.7,967.6L459.0,970.0L459.4,971.7L459.7,971.5L459.8,971.0L459.9,970.2L460.0,969.2L460.1,968.0L460.2,966.7L460.4,965.2L460.5,963.7L460.6,962.0L460.8,960.4L460.9,958.7L461.0,957.0L461.2,955.4L461.3,953.9L461.4,952.4L461.5,951.1L461.6,950.0L461.7,948.8L461.8,947.5L461.9,946.1L462.0,944.6L462.2,943.1L462.3,941.5L462.4,940.0L462.6,938.4L462.7,936.9L462.8,935.5L462.9,934.1L463.1,932.8L463.2,931.7L463.3,930.8L463.4,930.0L463.8,927.8L464.4,926.2L464.9,925.1L465.5,924.7L466.5,925.3L467.8,927.1L468.9,927.0L469.3,926.7L469.7,925.5L470.1,924.0L470.5,922.3L470.9,920.6L471.2,919.0L471.4,918.0L471.6,916.7L471.8,915.2L472.1,913.6L472.3,912.0L472.5,910.4L472.8,908.8L473.0,907.5L473.2,906.3L473.4,905.4L474.0,903.3L474.8,901.7L475.6,900.3L477.0,901.3L478.8,902.2L480.3,903.7L482.2,902.6L484.1,902.8L486.0,903.3L487.8,903.5L488.5,902.5L489.2,900.8L489.9,899.0L490.4,897.7L491.4,895.5L492.4,894.6L492.7,895.3L493.0,896.2L493.3,897.5L493.6,899.0L493.9,900.8L494.1,902.8L494.2,903.6L494.2,904.6L494.3,905.6L494.4,906.8L494.5,908.1L494.6,909.5L494.7,911.0L494.7,912.5L494.8,914.0L494.9,915.6L495.0,917.1L495.1,918.6L495.1,920.1L495.2,921.6L495.3,922.9L495.3,924.2L495.4,925.4L495.5,926.5L495.5,927.6L495.6,928.9L495.6,930.2L495.7,931.6L495.8,933.0L495.8,934.5L495.9,935.9L496.0,937.4L496.0,939.0L496.1,940.4L496.2,941.9L496.2,943.3L496.3,944.7L496.4,946.1L496.4,947.3L496.5,948.5L496.5,949.5L496.6,950.5L496.7,951.9L496.8,953.3L496.9,954.8L497.0,956.4L497.1,957.9L497.2,959.5L497.3,961.0L497.4,962.5L497.6,963.8L497.7,965.1L497.7,966.3L497.8,967.3L497.9,968.1L498.1,970.5L498.2,972.7L498.4,974.1L498.6,974.2L498.7,973.7L498.9,972.9L499.0,971.9L499.2,970.6L499.4,969.1L499.7,967.5L499.9,965.8L500.1,964.0L500.2,962.3L500.4,960.6L500.5,959.7L500.5,958.7L500.6,957.6L500.7,956.4L500.8,955.1L500.9,953.7L501.0,952.2L501.1,950.7L501.2,949.2L501.2,947.6L501.3,946.0L501.4,944.5L501.5,942.9L501.6,941.4L501.7,939.9L501.8,938.5L501.9,937.2L502.0,935.9L502.0,934.8L502.1,933.8L502.2,932.9L502.3,931.3L502.5,929.5L502.7,927.7L502.9,925.9L503.1,924.2L503.3,922.5L503.5,921.0L503.7,919.8L503.9,918.8L504.1,918.1L504.2,918.4L504.4,918.0L504.6,918.9L504.8,920.3L505.0,921.9L505.2,923.8L505.4,925.7L505.6,927.6L505.7,929.2L505.9,930.4L506.1,931.9L506.4,933.7L506.6,935.5L506.9,937.3L507.1,938.8L507.4,939.7L507.6,939.8L507.8,939.6L507.9,938.8L508.1,937.5L508.3,936.0L508.5,934.3L508.7,932.6L508.9,930.9L509.0,929.3L509.2,927.9L509.3,926.8L509.5,925.5L509.6,924.0L509.8,922.4L510.0,920.8L510.2,919.1L510.3,917.6L510.5,916.1L510.7,914.8L510.9,913.7L511.0,912.8L511.6,910.8L512.3,909.5L513.0,908.5L513.8,907.2L514.9,905.8L515.8,904.9L517.1,903.4L518.5,903.4L519.8,902.4L521.4,903.2L522.7,903.6L523.0,904.4L523.3,905.3L523.6,906.5L523.9,907.8L524.2,909.2L524.5,910.8L524.7,912.4L525.0,914.0L525.1,914.8L525.3,915.8L525.4,917.0L525.6,918.2L525.8,919.6L525.9,921.0L526.1,922.5L526.3,924.0L526.5,925.6L526.7,927.1L526.9,928.6L527.0,930.1L527.2,931.5L527.4,932.8L527.5,934.0L527.7,935.1L527.8,936.0L528.0,937.3L528.2,938.7L528.4,940.1L528.6,941.5L528.8,942.9L529.1,944.2L529.3,945.6L529.5,946.9L529.7,948.1L529.9,949.3L530.1,950.5L530.3,951.7L530.5,953.1L530.7,954.7L530.9,956.4L531.2,958.2L531.4,960.0L531.7,961.7L531.9,963.3L532.2,964.6L532.4,965.7L532.6,966.4L532.8,966.3L533.0,966.5L533.3,965.8L533.5,964.6L533.8,963.2L534.1,961.5L534.4,959.6L534.6,957.8L534.9,956.0L535.1,954.4L535.3,953.0L535.5,951.9L535.6,950.6L535.8,949.2L536.0,947.7L536.2,946.1L536.4,944.5L536.6,943.0L536.8,941.5L537.0,940.1L537.1,938.9L537.3,937.8L537.4,937.0L537.9,934.4L538.4,932.6L538.8,931.8L539.0,932.8L539.3,933.8L539.5,935.1L539.8,936.6L540.1,938.2L540.4,939.9L540.6,941.5L540.7,942.4L540.9,943.4L541.0,944.6L541.1,945.9L541.3,947.2L541.5,948.6L541.6,950.1L541.8,951.6L541.9,953.1L542.1,954.7L542.2,956.2L542.4,957.6L542.5,959.0L542.6,959.9L542.7,961.0L542.8,962.1L542.9,963.3L542.9,964.5L543.1,965.8L543.2,967.2L543.3,968.6L543.4,970.0L543.5,971.5L543.6,973.0L543.7,974.5L543.8,975.9L543.9,977.4L544.0,978.9L544.1,980.3L544.2,981.8L544.3,983.1L544.4,984.4L544.5,985.7L544.6,986.7L544.6,987.9L544.7,989.1L544.8,990.5L544.9,991.9L545.0,993.4L545.1,995.0L545.2,996.7L545.3,998.3L545.4,1000.0L545.5,1001.8L545.6,1003.5L545.7,1005.2L545.8,1006.9L545.9,1008.5L546.0,1010.1L546.1,1011.6L546.2,1013.1L546.3,1014.5L546.4,1015.7L546.5,1016.9L546.6,1017.9L546.7,1018.8L546.7,1019.5L546.8,1020.1L546.9,1020.5L547.1,1020.7L547.3,1020.8L547.5,1020.1L547.8,1019.0L548.0,1017.6L548.3,1015.9L548.5,1013.9L548.8,1011.8L549.0,1009.7L549.2,1007.5L549.4,1005.4L549.5,1004.6L549.5,1003.7L549.6,1002.8L549.7,1001.7L549.8,1000.5L549.8,999.3L549.9,998.0L550.0,996.7L550.1,995.3L550.2,993.8L550.3,992.3L550.4,990.8L550.4,989.3L550.5,987.7L550.6,986.1L550.7,984.5L550.8,982.9L550.9,981.3L551.0,979.7L551.1,978.1L551.2,976.6L551.2,975.1L551.3,973.6L551.4,972.2L551.5,970.8L551.6,969.5L551.6,968.2L551.7,967.1L551.8,966.0L551.8,964.9L551.9,964.0L552.0,962.6L552.1,961.2L552.2,959.7L552.3,958.2L552.4,956.6L552.5,955.1L552.6,953.5L552.7,951.9L552.8,950.4L552.9,948.9L553.0,947.4L553.1,946.0L553.2,944.6L553.3,943.2L553.4,942.0L553.5,940.8L553.6,939.7L553.7,938.7L553.8,937.8L553.9,937.0L554.2,935.1L554.5,933.3L554.9,931.8L555.3,930.6L555.7,929.5L556.0,928.6L556.3,928.1L557.5,927.4L558.6,927.7L559.4,929.3L560.2,930.3L560.7,929.3L561.4,927.3L562.1,925.5L562.7,924.9L563.0,925.3L563.3,926.2L563.6,927.6L564.0,929.2L564.2,931.1L564.5,933.0L564.6,933.8L564.7,934.8L564.8,936.0L564.9,937.3L565.0,938.7L565.1,940.1L565.2,941.7L565.3,943.2L565.4,944.8L565.6,946.4L565.7,947.9L565.8,949.3L565.9,950.7L566.0,951.9L566.1,953.0L566.2,954.0L566.4,955.5L566.6,957.2L566.8,959.1L567.0,960.9L567.2,962.7L567.5,964.3L567.7,965.7L567.9,966.8L568.1,967.5L568.3,968.1L568.4,967.3L568.6,966.7L568.7,965.8L568.9,964.6L569.1,963.3L569.2,961.8L569.4,960.2L569.6,958.5L569.7,956.8L569.9,955.1L570.0,953.4L570.2,951.9L570.3,950.5L570.4,949.5L570.5,948.5L570.6,947.3L570.7,946.0L570.8,944.6L570.9,943.1L571.0,941.6L571.1,940.1L571.2,938.6L571.3,937.0L571.4,935.5L571.5,934.0L571.6,932.5L571.7,931.1L571.8,929.7L571.9,928.5L572.0,927.3L572.1,926.3L572.2,925.4L572.4,923.8L572.5,922.2L572.7,920.5L572.9,918.9L573.1,917.4L573.3,915.9L573.5,914.5L573.7,913.4L573.8,912.4L574.0,911.6L574.9,909.4L575.8,909.5L576.1,910.1L576.4,911.1L576.8,912.5L577.1,914.1L577.5,915.9L577.8,917.8L577.9,918.6L578.0,919.7L578.2,920.8L578.3,922.2L578.4,923.6L578.6,925.1L578.7,926.7L578.9,928.3L579.0,929.9L579.2,931.4L579.3,933.0L579.5,934.4L579.6,935.8L579.8,937.0L579.9,938.1L580.0,939.0L580.3,940.8L580.6,942.7L580.9,944.7L581.2,946.6L581.6,948.2L581.9,949.5L582.2,950.2L582.4,950.2L582.5,949.8L582.6,949.2L582.8,948.4L582.9,947.3L583.0,946.1L583.1,944.7L583.2,943.2L583.3,941.6L583.5,939.9L583.6,938.2L583.7,936.5L583.8,934.8L583.9,933.1L584.0,931.5L584.1,930.6L584.1,929.7L584.2,928.6L584.2,927.5L584.3,926.3L584.4,925.0L584.4,923.7L584.5,922.3L584.6,920.8L584.6,919.3L584.7,917.8L584.8,916.3L584.9,914.7L584.9,913.2L585.0,911.6L585.1,910.1L585.1,908.6L585.2,907.1L585.3,905.6L585.4,904.2L585.4,902.8L585.5,901.5L585.6,900.2L585.6,899.0L585.7,897.9L585.7,896.9L585.8,896.0L585.9,894.6L586.0,893.1L586.1,891.6L586.2,890.0L586.3,888.4L586.4,886.8L586.5,885.2L586.7,883.6L586.8,882.1L586.9,880.6L587.0,879.2L587.1,877.9L587.2,876.7L587.3,875.5L587.4,874.5L587.5,873.7L587.6,873.0L588.3,870.0L588.9,870.1L589.1,871.0L589.4,872.6L589.7,874.5L590.1,876.3L590.4,877.7L590.9,879.1L591.5,880.7L592.2,882.0L592.9,882.7L594.2,883.4L595.8,883.4L597.2,882.2L597.8,881.3L598.5,879.8L599.2,878.0L599.9,876.4L600.4,875.2L601.3,873.7L602.2,872.4L603.0,871.6L604.5,870.6L606.0,870.2L606.4,869.0L606.7,867.1L607.1,865.2L607.4,863.7L607.7,862.8L607.9,863.8L608.0,864.6L608.2,865.7L608.4,867.0L608.6,868.5L608.7,870.1L608.9,871.8L609.1,873.5L609.2,875.2L609.3,876.1L609.3,877.1L609.4,878.2L609.5,879.4L609.5,880.7L609.6,882.1L609.7,883.6L609.7,885.1L609.8,886.7L609.9,888.2L609.9,889.8L610.0,891.3L610.1,892.9L610.2,894.3L610.2,895.7L610.3,897.1L610.4,898.3L610.4,899.4L610.5,900.4L610.6,901.8L610.7,903.3L610.8,904.9L610.9,906.7L611.1,908.5L611.2,910.3L611.3,912.0L611.5,913.6L611.6,915.2L611.7,916.5L611.9,917.6L612.0,918.5L612.1,919.0L612.2,919.0L612.3,919.0L612.4,918.4L612.6,917.5L612.7,916.3L612.8,914.9L613.0,913.3L613.1,911.6L613.3,909.8L613.4,908.0L613.5,906.2L613.7,904.5L613.8,902.9L613.9,901.5L614.0,900.4L614.1,899.1L614.2,897.6L614.4,895.9L614.5,894.1L614.6,892.3L614.8,890.6L614.9,888.9L615.0,887.4L615.1,886.0L615.3,885.0L615.4,884.3L615.5,883.7L615.6,884.2L615.8,885.0L616.0,886.2L616.2,887.7L616.4,889.4L616.6,891.3L616.8,893.2L617.0,895.0L617.1,896.5L617.3,897.8L617.4,899.0L617.6,900.5L617.8,902.1L618.0,903.9L618.1,905.6L618.3,907.2L618.5,908.6L618.7,909.7L618.8,910.5L619.0,910.5L619.2,910.7L619.4,909.8L619.7,908.4L620.0,906.7L620.3,904.9L620.5,903.2L620.8,901.6L621.0,900.4L621.3,898.9L621.7,897.1L622.0,895.2L622.4,893.5L622.8,892.2L623.1,891.5L623.5,892.0L624.1,893.3L624.7,895.0L625.2,896.7L625.6,897.8L626.4,899.5L627.3,899.4L627.7,899.0L628.3,897.7L628.9,896.0L629.5,894.3L630.1,892.7L630.6,891.6L631.7,889.9L633.0,888.3L634.1,887.6L635.0,888.0L636.0,889.1L637.0,890.3L637.9,891.6L638.3,892.5L638.8,893.8L639.3,895.2L639.8,896.7L640.3,898.1L640.7,899.4L641.1,900.4L641.7,901.8L642.4,903.2L643.0,904.4L643.7,905.4L644.5,906.5L645.5,907.8L646.5,909.1L647.4,908.8L648.1,908.4L648.9,906.9L649.8,905.3L650.6,903.9L651.2,903.3L651.7,904.0L652.2,905.4L652.7,907.2L653.2,909.0L653.7,910.4L654.3,911.7L655.0,913.3L655.7,914.9L656.4,916.1L657.0,917.2L657.7,916.1L658.5,914.6L659.3,912.9L660.0,911.7L661.6,910.2L663.3,910.0L664.6,910.6L666.1,911.5L667.5,913.0L668.4,913.6L669.4,914.7L670.5,915.6L671.6,916.8L672.5,917.9L673.1,918.8L673.8,919.9L674.6,921.2L675.4,922.5L676.2,923.8L676.9,924.8L677.6,925.3L679.0,926.4L680.8,926.0L682.4,926.5L683.4,926.7" fill="none" stroke="#ff0000" stroke-width="4.3" stroke-linejoin="round" stroke-linecap="round"/>
<text font-size="28.0" x="259.0" y="533.2" style="font-kerning:normal;letter-spacing:-0.25px">Wavenumber</text><text font-size="28.0" x="426.2" y="533.2">(cm</text><text font-size="20.5" x="472.4" y="522.6">-1</text><text font-size="28.0" x="492.9" y="533.2">)</text>
<text font-size="28.4" x="274.0" y="1120.4" style="font-kerning:normal;letter-spacing:-0.25px">Wavenumber</text><text font-size="28.4" x="443.7" y="1120.4">(cm</text><text font-size="20.8" x="490.6" y="1109.6">-1</text><text font-size="28.4" x="510.4" y="1120.4">)</text>
<text font-size="27.5" text-anchor="middle" transform="translate(23.1,233.7) rotate(-90)">Transmittance(a.u.)</text>
<text font-size="27.9" text-anchor="middle" transform="translate(20,821.65) rotate(-90)">Transmittance(a.u.)</text>
</svg></body></html>
